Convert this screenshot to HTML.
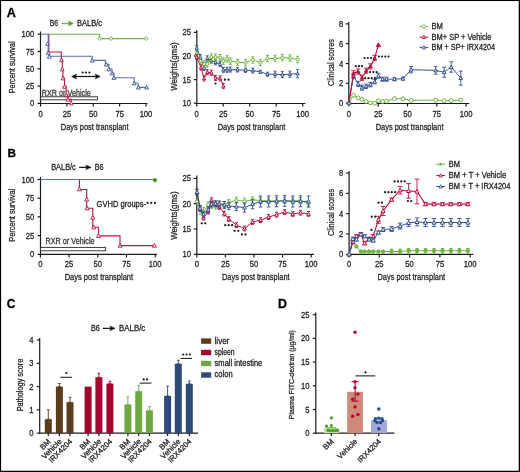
<!DOCTYPE html>
<html><head><meta charset="utf-8"><style>
html,body{margin:0;padding:0;background:#fff;}
svg{display:block;font-family:"Liberation Sans", sans-serif;will-change:transform;}
</style></head><body>
<svg width="520" height="472" viewBox="0 0 520 472">
<rect width="520" height="472" fill="#fff"/>
<rect x="0" y="0" width="520" height="1.05" fill="#000"/>
<rect x="0" y="0" width="1.1" height="472" fill="#000"/>
<rect x="518.7" y="0" width="1.3" height="472" fill="#000"/>
<rect x="0" y="470.75" width="520" height="1.25" fill="#000"/>
<text x="6.80" y="16.70" font-size="12.6" font-weight="bold" fill="#000" stroke="#000" stroke-width="0.28">A</text>
<text x="7.50" y="156.90" font-size="11.8" font-weight="bold" fill="#000" stroke="#000" stroke-width="0.28">B</text>
<text x="6.80" y="307.90" font-size="12" font-weight="bold" fill="#000" stroke="#000" stroke-width="0.28">C</text>
<text x="278.00" y="308.00" font-size="12.4" font-weight="bold" fill="#000" stroke="#000" stroke-width="0.28">D</text>
<line x1="40.50" y1="31.50" x2="40.50" y2="104.05" stroke="#1b1b1b" stroke-width="1.2"/>
<line x1="37.50" y1="34.20" x2="40.50" y2="34.20" stroke="#1b1b1b" stroke-width="1.2"/>
<text x="34.20" y="37.20" font-size="9.0" text-anchor="end" textLength="12.75" lengthAdjust="spacingAndGlyphs" fill="#222" stroke="#222" stroke-width="0.28">100</text>
<line x1="37.50" y1="51.50" x2="40.50" y2="51.50" stroke="#1b1b1b" stroke-width="1.2"/>
<text x="34.20" y="54.50" font-size="9.0" text-anchor="end" textLength="8.5" lengthAdjust="spacingAndGlyphs" fill="#222" stroke="#222" stroke-width="0.28">75</text>
<line x1="37.50" y1="68.80" x2="40.50" y2="68.80" stroke="#1b1b1b" stroke-width="1.2"/>
<text x="34.20" y="71.80" font-size="9.0" text-anchor="end" textLength="8.5" lengthAdjust="spacingAndGlyphs" fill="#222" stroke="#222" stroke-width="0.28">50</text>
<line x1="37.50" y1="86.10" x2="40.50" y2="86.10" stroke="#1b1b1b" stroke-width="1.2"/>
<text x="34.20" y="89.10" font-size="9.0" text-anchor="end" textLength="8.5" lengthAdjust="spacingAndGlyphs" fill="#222" stroke="#222" stroke-width="0.28">25</text>
<line x1="37.50" y1="103.40" x2="40.50" y2="103.40" stroke="#1b1b1b" stroke-width="1.2"/>
<text x="34.20" y="106.40" font-size="9.0" text-anchor="end" textLength="4.25" lengthAdjust="spacingAndGlyphs" fill="#222" stroke="#222" stroke-width="0.28">0</text>
<line x1="39.95" y1="103.50" x2="147.50" y2="103.50" stroke="#1b1b1b" stroke-width="1.2"/>
<line x1="40.60" y1="103.50" x2="40.60" y2="106.50" stroke="#1b1b1b" stroke-width="1.2"/>
<text x="40.60" y="116.70" font-size="9.0" text-anchor="middle" textLength="4.25" lengthAdjust="spacingAndGlyphs" fill="#222" stroke="#222" stroke-width="0.28">0</text>
<line x1="66.95" y1="103.50" x2="66.95" y2="106.50" stroke="#1b1b1b" stroke-width="1.2"/>
<text x="66.95" y="116.70" font-size="9.0" text-anchor="middle" textLength="8.5" lengthAdjust="spacingAndGlyphs" fill="#222" stroke="#222" stroke-width="0.28">25</text>
<line x1="93.30" y1="103.50" x2="93.30" y2="106.50" stroke="#1b1b1b" stroke-width="1.2"/>
<text x="93.30" y="116.70" font-size="9.0" text-anchor="middle" textLength="8.5" lengthAdjust="spacingAndGlyphs" fill="#222" stroke="#222" stroke-width="0.28">50</text>
<line x1="119.65" y1="103.50" x2="119.65" y2="106.50" stroke="#1b1b1b" stroke-width="1.2"/>
<text x="119.65" y="116.70" font-size="9.0" text-anchor="middle" textLength="8.5" lengthAdjust="spacingAndGlyphs" fill="#222" stroke="#222" stroke-width="0.28">75</text>
<line x1="146.00" y1="103.50" x2="146.00" y2="106.50" stroke="#1b1b1b" stroke-width="1.2"/>
<text x="146.00" y="116.70" font-size="9.0" text-anchor="middle" textLength="12.75" lengthAdjust="spacingAndGlyphs" fill="#222" stroke="#222" stroke-width="0.28">100</text>
<text transform="translate(15.00,67.30) rotate(-90)" font-size="9.8" text-anchor="middle" textLength="52" lengthAdjust="spacingAndGlyphs" fill="#222" stroke="#222" stroke-width="0.28">Percent survival</text>
<text x="94.70" y="130.10" font-size="9.8" text-anchor="middle" textLength="67.7" lengthAdjust="spacingAndGlyphs" fill="#222" stroke="#222" stroke-width="0.28">Days post transplant</text>
<text x="49.70" y="25.80" font-size="8.4" textLength="8.3" lengthAdjust="spacingAndGlyphs" fill="#222" stroke="#222" stroke-width="0.28">B6</text>
<line x1="61.50" y1="23.50" x2="69.60" y2="23.50" stroke="#79b957" stroke-width="1.3"/>
<polygon points="73.60,23.50 68.20,21.10 69.20,23.50 68.20,25.90" fill="#4f9c2a" stroke="#4f9c2a" stroke-width="0.4" stroke-linejoin="round"/>
<text x="77.00" y="25.80" font-size="8.4" textLength="25" lengthAdjust="spacingAndGlyphs" fill="#222" stroke="#222" stroke-width="0.28">BALB/c</text>
<rect x="40.6" y="96.8" width="57" height="3.0" fill="white" stroke="#2a2a2a" stroke-width="0.9"/>
<text x="41.80" y="95.90" font-size="8.8" textLength="49" lengthAdjust="spacingAndGlyphs" fill="#333" stroke="#333" stroke-width="0.28">RXR or Vehicle</text>
<polyline points="48.50,34.20 99.40,34.20 99.40,38.60 146.20,38.60" fill="none" stroke="#6cb33f" stroke-width="1.1" stroke-linejoin="miter"/>
<circle cx="99.60" cy="38.60" r="1.6" fill="white" stroke="#6cb33f" stroke-width="0.9"/>
<circle cx="111.00" cy="38.60" r="1.6" fill="white" stroke="#6cb33f" stroke-width="0.9"/>
<circle cx="146.20" cy="38.60" r="1.6" fill="white" stroke="#6cb33f" stroke-width="0.9"/>
<polyline points="48.80,34.20 48.80,52.00 61.30,52.00 61.30,59.80 62.30,59.80 62.30,69.00 62.90,69.00 62.90,78.00 64.50,78.00 64.50,86.40 66.20,86.40 66.20,94.80 67.90,94.80 67.90,99.30 71.30,99.30 71.30,103.40" fill="none" stroke="#bb1340" stroke-width="1.1" stroke-linejoin="miter"/>
<polygon points="61.50,58.10 63.40,61.62 59.60,61.62" fill="white" stroke="#bb1340" stroke-width="0.9"/>
<polygon points="62.30,67.30 64.20,70.82 60.40,70.82" fill="white" stroke="#bb1340" stroke-width="0.9"/>
<polygon points="62.90,76.30 64.80,79.82 61.00,79.82" fill="white" stroke="#bb1340" stroke-width="0.9"/>
<polygon points="64.50,84.70 66.40,88.22 62.60,88.22" fill="white" stroke="#bb1340" stroke-width="0.9"/>
<polygon points="66.20,93.10 68.10,96.62 64.30,96.62" fill="white" stroke="#bb1340" stroke-width="0.9"/>
<polygon points="67.90,97.60 69.80,101.12 66.00,101.12" fill="white" stroke="#bb1340" stroke-width="0.9"/>
<polygon points="71.30,101.30 73.20,104.82 69.40,104.82" fill="white" stroke="#bb1340" stroke-width="0.9"/>
<polyline points="40.60,34.20 48.20,34.20 48.20,52.00 48.90,52.00 48.90,56.30 92.20,56.30 92.20,60.40 105.40,60.40 105.40,64.30 108.80,64.30 108.80,69.00 112.00,69.00 112.00,73.00 113.90,73.00 113.90,77.70 134.20,77.70 134.20,83.00 138.00,83.00 138.00,87.40 146.70,87.40" fill="none" stroke="#5570a8" stroke-width="1.1" stroke-linejoin="miter"/>
<polygon points="47.60,41.80 49.50,45.32 45.70,45.32" fill="white" stroke="#34508f" stroke-width="0.9"/>
<polygon points="48.20,50.80 50.10,54.32 46.30,54.32" fill="white" stroke="#34508f" stroke-width="0.9"/>
<polygon points="49.30,54.60 51.20,58.12 47.40,58.12" fill="white" stroke="#34508f" stroke-width="0.9"/>
<polygon points="92.20,58.51 94.10,62.02 90.30,62.02" fill="white" stroke="#34508f" stroke-width="0.9"/>
<polygon points="106.30,62.60 108.20,66.12 104.40,66.12" fill="white" stroke="#34508f" stroke-width="0.9"/>
<polygon points="108.80,67.30 110.70,70.82 106.90,70.82" fill="white" stroke="#34508f" stroke-width="0.9"/>
<polygon points="112.00,71.30 113.90,74.82 110.10,74.82" fill="white" stroke="#34508f" stroke-width="0.9"/>
<polygon points="113.90,75.80 115.80,79.32 112.00,79.32" fill="white" stroke="#34508f" stroke-width="0.9"/>
<polygon points="134.20,81.30 136.10,84.82 132.30,84.82" fill="white" stroke="#34508f" stroke-width="0.9"/>
<polygon points="138.40,85.50 140.30,89.02 136.50,89.02" fill="white" stroke="#34508f" stroke-width="0.9"/>
<polygon points="146.70,85.50 148.60,89.02 144.80,89.02" fill="white" stroke="#34508f" stroke-width="0.9"/>
<line x1="74.00" y1="76.50" x2="97.50" y2="76.50" stroke="#111" stroke-width="1.2"/>
<polygon points="71.6,76.5 76.5,74.1 75.6,76.5 76.5,78.9" fill="#111" stroke="#111" stroke-width="0.5" stroke-linejoin="round"/>
<polygon points="100.2,76.5 95.3,74.1 96.2,76.5 95.3,78.9" fill="#111" stroke="#111" stroke-width="0.5" stroke-linejoin="round"/>
<circle cx="82.70" cy="72.50" r="1.1" fill="#161616"/>
<circle cx="86.05" cy="72.50" r="1.1" fill="#161616"/>
<circle cx="89.40" cy="72.50" r="1.1" fill="#161616"/>
<line x1="196.80" y1="30.00" x2="196.80" y2="104.05" stroke="#1b1b1b" stroke-width="1.2"/>
<line x1="193.80" y1="32.40" x2="196.80" y2="32.40" stroke="#1b1b1b" stroke-width="1.2"/>
<text x="190.90" y="35.40" font-size="9.0" text-anchor="end" textLength="8.5" lengthAdjust="spacingAndGlyphs" fill="#222" stroke="#222" stroke-width="0.28">25</text>
<line x1="193.80" y1="56.00" x2="196.80" y2="56.00" stroke="#1b1b1b" stroke-width="1.2"/>
<text x="190.90" y="59.00" font-size="9.0" text-anchor="end" textLength="8.5" lengthAdjust="spacingAndGlyphs" fill="#222" stroke="#222" stroke-width="0.28">20</text>
<line x1="193.80" y1="79.60" x2="196.80" y2="79.60" stroke="#1b1b1b" stroke-width="1.2"/>
<text x="190.90" y="82.60" font-size="9.0" text-anchor="end" textLength="8.5" lengthAdjust="spacingAndGlyphs" fill="#222" stroke="#222" stroke-width="0.28">15</text>
<line x1="193.80" y1="103.20" x2="196.80" y2="103.20" stroke="#1b1b1b" stroke-width="1.2"/>
<text x="190.90" y="106.20" font-size="9.0" text-anchor="end" textLength="8.5" lengthAdjust="spacingAndGlyphs" fill="#222" stroke="#222" stroke-width="0.28">10</text>
<line x1="196.25" y1="103.50" x2="305.40" y2="103.50" stroke="#1b1b1b" stroke-width="1.2"/>
<line x1="196.70" y1="103.50" x2="196.70" y2="106.50" stroke="#1b1b1b" stroke-width="1.2"/>
<text x="196.70" y="116.70" font-size="9.0" text-anchor="middle" textLength="4.25" lengthAdjust="spacingAndGlyphs" fill="#222" stroke="#222" stroke-width="0.28">0</text>
<line x1="223.20" y1="103.50" x2="223.20" y2="106.50" stroke="#1b1b1b" stroke-width="1.2"/>
<text x="223.20" y="116.70" font-size="9.0" text-anchor="middle" textLength="8.5" lengthAdjust="spacingAndGlyphs" fill="#222" stroke="#222" stroke-width="0.28">25</text>
<line x1="249.70" y1="103.50" x2="249.70" y2="106.50" stroke="#1b1b1b" stroke-width="1.2"/>
<text x="249.70" y="116.70" font-size="9.0" text-anchor="middle" textLength="8.5" lengthAdjust="spacingAndGlyphs" fill="#222" stroke="#222" stroke-width="0.28">50</text>
<line x1="276.20" y1="103.50" x2="276.20" y2="106.50" stroke="#1b1b1b" stroke-width="1.2"/>
<text x="276.20" y="116.70" font-size="9.0" text-anchor="middle" textLength="8.5" lengthAdjust="spacingAndGlyphs" fill="#222" stroke="#222" stroke-width="0.28">75</text>
<line x1="302.70" y1="103.50" x2="302.70" y2="106.50" stroke="#1b1b1b" stroke-width="1.2"/>
<text x="302.70" y="116.70" font-size="9.0" text-anchor="middle" textLength="12.75" lengthAdjust="spacingAndGlyphs" fill="#222" stroke="#222" stroke-width="0.28">100</text>
<text transform="translate(177.40,66.50) rotate(-90)" font-size="9.8" text-anchor="middle" textLength="48.4" lengthAdjust="spacingAndGlyphs" fill="#222" stroke="#222" stroke-width="0.28">Weights(gms)</text>
<text x="251.50" y="130.10" font-size="9.8" text-anchor="middle" textLength="67.7" lengthAdjust="spacingAndGlyphs" fill="#222" stroke="#222" stroke-width="0.28">Days post transplant</text>
<polyline points="196.70,54.20 200.40,61.10 204.10,64.00 207.30,64.00 211.30,57.10 215.60,57.10 220.00,57.70 223.40,61.10 227.10,58.80 230.40,61.10 237.50,62.30 245.50,62.60 252.80,59.90 260.40,62.60 267.50,58.50 275.10,58.50 282.40,57.70 289.90,58.10 297.60,59.50" fill="none" stroke="#6cb33f" stroke-width="1.0" stroke-linejoin="miter"/>
<polyline points="196.70,47.90 200.40,57.10 204.10,68.00 207.30,58.30 211.30,60.60 215.60,62.30 220.00,64.00 223.40,69.80 227.10,69.80 230.40,69.50 237.50,69.80 245.50,70.20 252.80,70.50 260.40,71.90 267.50,74.20 275.10,74.20 282.40,74.60 289.90,74.20 297.60,73.60" fill="none" stroke="#34508f" stroke-width="1.0" stroke-linejoin="miter"/>
<polyline points="196.70,57.10 201.00,67.50 204.10,78.40 207.30,72.10 211.30,72.70 215.60,77.90 220.20,78.40 223.40,86.00" fill="none" stroke="#bb1340" stroke-width="1.0" stroke-linejoin="miter"/>
<line x1="196.70" y1="45.40" x2="196.70" y2="50.40" stroke="#34508f" stroke-width="0.9"/>
<line x1="195.20" y1="45.40" x2="198.20" y2="45.40" stroke="#34508f" stroke-width="0.9"/>
<line x1="195.20" y1="50.40" x2="198.20" y2="50.40" stroke="#34508f" stroke-width="0.9"/>
<polygon points="196.70,46.22 198.30,49.18 195.10,49.18" fill="white" stroke="#34508f" stroke-width="1.0"/>
<line x1="200.40" y1="54.60" x2="200.40" y2="59.60" stroke="#34508f" stroke-width="0.9"/>
<line x1="198.90" y1="54.60" x2="201.90" y2="54.60" stroke="#34508f" stroke-width="0.9"/>
<line x1="198.90" y1="59.60" x2="201.90" y2="59.60" stroke="#34508f" stroke-width="0.9"/>
<polygon points="200.40,55.42 202.00,58.38 198.80,58.38" fill="white" stroke="#34508f" stroke-width="1.0"/>
<line x1="204.10" y1="65.50" x2="204.10" y2="70.50" stroke="#34508f" stroke-width="0.9"/>
<line x1="202.60" y1="65.50" x2="205.60" y2="65.50" stroke="#34508f" stroke-width="0.9"/>
<line x1="202.60" y1="70.50" x2="205.60" y2="70.50" stroke="#34508f" stroke-width="0.9"/>
<polygon points="204.10,66.32 205.70,69.28 202.50,69.28" fill="white" stroke="#34508f" stroke-width="1.0"/>
<line x1="207.30" y1="55.80" x2="207.30" y2="60.80" stroke="#34508f" stroke-width="0.9"/>
<line x1="205.80" y1="55.80" x2="208.80" y2="55.80" stroke="#34508f" stroke-width="0.9"/>
<line x1="205.80" y1="60.80" x2="208.80" y2="60.80" stroke="#34508f" stroke-width="0.9"/>
<polygon points="207.30,56.62 208.90,59.58 205.70,59.58" fill="white" stroke="#34508f" stroke-width="1.0"/>
<line x1="211.30" y1="58.10" x2="211.30" y2="63.10" stroke="#34508f" stroke-width="0.9"/>
<line x1="209.80" y1="58.10" x2="212.80" y2="58.10" stroke="#34508f" stroke-width="0.9"/>
<line x1="209.80" y1="63.10" x2="212.80" y2="63.10" stroke="#34508f" stroke-width="0.9"/>
<polygon points="211.30,58.92 212.90,61.88 209.70,61.88" fill="white" stroke="#34508f" stroke-width="1.0"/>
<line x1="215.60" y1="59.80" x2="215.60" y2="64.80" stroke="#34508f" stroke-width="0.9"/>
<line x1="214.10" y1="59.80" x2="217.10" y2="59.80" stroke="#34508f" stroke-width="0.9"/>
<line x1="214.10" y1="64.80" x2="217.10" y2="64.80" stroke="#34508f" stroke-width="0.9"/>
<polygon points="215.60,60.62 217.20,63.58 214.00,63.58" fill="white" stroke="#34508f" stroke-width="1.0"/>
<line x1="220.00" y1="61.50" x2="220.00" y2="66.50" stroke="#34508f" stroke-width="0.9"/>
<line x1="218.50" y1="61.50" x2="221.50" y2="61.50" stroke="#34508f" stroke-width="0.9"/>
<line x1="218.50" y1="66.50" x2="221.50" y2="66.50" stroke="#34508f" stroke-width="0.9"/>
<polygon points="220.00,62.32 221.60,65.28 218.40,65.28" fill="white" stroke="#34508f" stroke-width="1.0"/>
<line x1="223.40" y1="67.30" x2="223.40" y2="72.30" stroke="#34508f" stroke-width="0.9"/>
<line x1="221.90" y1="67.30" x2="224.90" y2="67.30" stroke="#34508f" stroke-width="0.9"/>
<line x1="221.90" y1="72.30" x2="224.90" y2="72.30" stroke="#34508f" stroke-width="0.9"/>
<polygon points="223.40,68.12 225.00,71.08 221.80,71.08" fill="white" stroke="#34508f" stroke-width="1.0"/>
<line x1="227.10" y1="67.30" x2="227.10" y2="72.30" stroke="#34508f" stroke-width="0.9"/>
<line x1="225.60" y1="67.30" x2="228.60" y2="67.30" stroke="#34508f" stroke-width="0.9"/>
<line x1="225.60" y1="72.30" x2="228.60" y2="72.30" stroke="#34508f" stroke-width="0.9"/>
<polygon points="227.10,68.12 228.70,71.08 225.50,71.08" fill="white" stroke="#34508f" stroke-width="1.0"/>
<line x1="230.40" y1="67.00" x2="230.40" y2="72.00" stroke="#34508f" stroke-width="0.9"/>
<line x1="228.90" y1="67.00" x2="231.90" y2="67.00" stroke="#34508f" stroke-width="0.9"/>
<line x1="228.90" y1="72.00" x2="231.90" y2="72.00" stroke="#34508f" stroke-width="0.9"/>
<polygon points="230.40,67.82 232.00,70.78 228.80,70.78" fill="white" stroke="#34508f" stroke-width="1.0"/>
<line x1="237.50" y1="67.60" x2="237.50" y2="72.00" stroke="#34508f" stroke-width="0.9"/>
<line x1="236.00" y1="67.60" x2="239.00" y2="67.60" stroke="#34508f" stroke-width="0.9"/>
<line x1="236.00" y1="72.00" x2="239.00" y2="72.00" stroke="#34508f" stroke-width="0.9"/>
<polygon points="237.50,68.12 239.10,71.08 235.90,71.08" fill="white" stroke="#34508f" stroke-width="1.0"/>
<line x1="245.50" y1="68.00" x2="245.50" y2="72.40" stroke="#34508f" stroke-width="0.9"/>
<line x1="244.00" y1="68.00" x2="247.00" y2="68.00" stroke="#34508f" stroke-width="0.9"/>
<line x1="244.00" y1="72.40" x2="247.00" y2="72.40" stroke="#34508f" stroke-width="0.9"/>
<polygon points="245.50,68.52 247.10,71.48 243.90,71.48" fill="white" stroke="#34508f" stroke-width="1.0"/>
<line x1="252.80" y1="68.00" x2="252.80" y2="73.00" stroke="#34508f" stroke-width="0.9"/>
<line x1="251.30" y1="68.00" x2="254.30" y2="68.00" stroke="#34508f" stroke-width="0.9"/>
<line x1="251.30" y1="73.00" x2="254.30" y2="73.00" stroke="#34508f" stroke-width="0.9"/>
<polygon points="252.80,68.82 254.40,71.78 251.20,71.78" fill="white" stroke="#34508f" stroke-width="1.0"/>
<line x1="260.40" y1="70.30" x2="260.40" y2="73.50" stroke="#34508f" stroke-width="0.9"/>
<line x1="258.90" y1="70.30" x2="261.90" y2="70.30" stroke="#34508f" stroke-width="0.9"/>
<line x1="258.90" y1="73.50" x2="261.90" y2="73.50" stroke="#34508f" stroke-width="0.9"/>
<polygon points="260.40,70.22 262.00,73.18 258.80,73.18" fill="white" stroke="#34508f" stroke-width="1.0"/>
<line x1="267.50" y1="72.20" x2="267.50" y2="76.20" stroke="#34508f" stroke-width="0.9"/>
<line x1="266.00" y1="72.20" x2="269.00" y2="72.20" stroke="#34508f" stroke-width="0.9"/>
<line x1="266.00" y1="76.20" x2="269.00" y2="76.20" stroke="#34508f" stroke-width="0.9"/>
<polygon points="267.50,72.52 269.10,75.48 265.90,75.48" fill="white" stroke="#34508f" stroke-width="1.0"/>
<line x1="275.10" y1="71.20" x2="275.10" y2="77.20" stroke="#34508f" stroke-width="0.9"/>
<line x1="273.60" y1="71.20" x2="276.60" y2="71.20" stroke="#34508f" stroke-width="0.9"/>
<line x1="273.60" y1="77.20" x2="276.60" y2="77.20" stroke="#34508f" stroke-width="0.9"/>
<polygon points="275.10,72.52 276.70,75.48 273.50,75.48" fill="white" stroke="#34508f" stroke-width="1.0"/>
<line x1="282.40" y1="71.60" x2="282.40" y2="77.60" stroke="#34508f" stroke-width="0.9"/>
<line x1="280.90" y1="71.60" x2="283.90" y2="71.60" stroke="#34508f" stroke-width="0.9"/>
<line x1="280.90" y1="77.60" x2="283.90" y2="77.60" stroke="#34508f" stroke-width="0.9"/>
<polygon points="282.40,72.92 284.00,75.88 280.80,75.88" fill="white" stroke="#34508f" stroke-width="1.0"/>
<line x1="289.90" y1="71.20" x2="289.90" y2="77.20" stroke="#34508f" stroke-width="0.9"/>
<line x1="288.40" y1="71.20" x2="291.40" y2="71.20" stroke="#34508f" stroke-width="0.9"/>
<line x1="288.40" y1="77.20" x2="291.40" y2="77.20" stroke="#34508f" stroke-width="0.9"/>
<polygon points="289.90,72.52 291.50,75.48 288.30,75.48" fill="white" stroke="#34508f" stroke-width="1.0"/>
<line x1="297.60" y1="69.40" x2="297.60" y2="77.80" stroke="#34508f" stroke-width="0.9"/>
<line x1="296.10" y1="69.40" x2="299.10" y2="69.40" stroke="#34508f" stroke-width="0.9"/>
<line x1="296.10" y1="77.80" x2="299.10" y2="77.80" stroke="#34508f" stroke-width="0.9"/>
<polygon points="297.60,71.92 299.20,74.88 296.00,74.88" fill="white" stroke="#34508f" stroke-width="1.0"/>
<line x1="196.70" y1="51.00" x2="196.70" y2="57.40" stroke="#6cb33f" stroke-width="0.9"/>
<line x1="195.20" y1="51.00" x2="198.20" y2="51.00" stroke="#6cb33f" stroke-width="0.9"/>
<line x1="195.20" y1="57.40" x2="198.20" y2="57.40" stroke="#6cb33f" stroke-width="0.9"/>
<circle cx="196.70" cy="54.20" r="1.5" fill="white" stroke="#6cb33f" stroke-width="1.0"/>
<line x1="200.40" y1="57.90" x2="200.40" y2="64.30" stroke="#6cb33f" stroke-width="0.9"/>
<line x1="198.90" y1="57.90" x2="201.90" y2="57.90" stroke="#6cb33f" stroke-width="0.9"/>
<line x1="198.90" y1="64.30" x2="201.90" y2="64.30" stroke="#6cb33f" stroke-width="0.9"/>
<circle cx="200.40" cy="61.10" r="1.5" fill="white" stroke="#6cb33f" stroke-width="1.0"/>
<line x1="204.10" y1="60.80" x2="204.10" y2="67.20" stroke="#6cb33f" stroke-width="0.9"/>
<line x1="202.60" y1="60.80" x2="205.60" y2="60.80" stroke="#6cb33f" stroke-width="0.9"/>
<line x1="202.60" y1="67.20" x2="205.60" y2="67.20" stroke="#6cb33f" stroke-width="0.9"/>
<circle cx="204.10" cy="64.00" r="1.5" fill="white" stroke="#6cb33f" stroke-width="1.0"/>
<line x1="207.30" y1="60.80" x2="207.30" y2="67.20" stroke="#6cb33f" stroke-width="0.9"/>
<line x1="205.80" y1="60.80" x2="208.80" y2="60.80" stroke="#6cb33f" stroke-width="0.9"/>
<line x1="205.80" y1="67.20" x2="208.80" y2="67.20" stroke="#6cb33f" stroke-width="0.9"/>
<circle cx="207.30" cy="64.00" r="1.5" fill="white" stroke="#6cb33f" stroke-width="1.0"/>
<line x1="211.30" y1="53.90" x2="211.30" y2="60.30" stroke="#6cb33f" stroke-width="0.9"/>
<line x1="209.80" y1="53.90" x2="212.80" y2="53.90" stroke="#6cb33f" stroke-width="0.9"/>
<line x1="209.80" y1="60.30" x2="212.80" y2="60.30" stroke="#6cb33f" stroke-width="0.9"/>
<circle cx="211.30" cy="57.10" r="1.5" fill="white" stroke="#6cb33f" stroke-width="1.0"/>
<line x1="215.60" y1="53.90" x2="215.60" y2="60.30" stroke="#6cb33f" stroke-width="0.9"/>
<line x1="214.10" y1="53.90" x2="217.10" y2="53.90" stroke="#6cb33f" stroke-width="0.9"/>
<line x1="214.10" y1="60.30" x2="217.10" y2="60.30" stroke="#6cb33f" stroke-width="0.9"/>
<circle cx="215.60" cy="57.10" r="1.5" fill="white" stroke="#6cb33f" stroke-width="1.0"/>
<line x1="220.00" y1="54.50" x2="220.00" y2="60.90" stroke="#6cb33f" stroke-width="0.9"/>
<line x1="218.50" y1="54.50" x2="221.50" y2="54.50" stroke="#6cb33f" stroke-width="0.9"/>
<line x1="218.50" y1="60.90" x2="221.50" y2="60.90" stroke="#6cb33f" stroke-width="0.9"/>
<circle cx="220.00" cy="57.70" r="1.5" fill="white" stroke="#6cb33f" stroke-width="1.0"/>
<line x1="223.40" y1="57.90" x2="223.40" y2="64.30" stroke="#6cb33f" stroke-width="0.9"/>
<line x1="221.90" y1="57.90" x2="224.90" y2="57.90" stroke="#6cb33f" stroke-width="0.9"/>
<line x1="221.90" y1="64.30" x2="224.90" y2="64.30" stroke="#6cb33f" stroke-width="0.9"/>
<circle cx="223.40" cy="61.10" r="1.5" fill="white" stroke="#6cb33f" stroke-width="1.0"/>
<line x1="227.10" y1="55.60" x2="227.10" y2="62.00" stroke="#6cb33f" stroke-width="0.9"/>
<line x1="225.60" y1="55.60" x2="228.60" y2="55.60" stroke="#6cb33f" stroke-width="0.9"/>
<line x1="225.60" y1="62.00" x2="228.60" y2="62.00" stroke="#6cb33f" stroke-width="0.9"/>
<circle cx="227.10" cy="58.80" r="1.5" fill="white" stroke="#6cb33f" stroke-width="1.0"/>
<line x1="230.40" y1="57.90" x2="230.40" y2="64.30" stroke="#6cb33f" stroke-width="0.9"/>
<line x1="228.90" y1="57.90" x2="231.90" y2="57.90" stroke="#6cb33f" stroke-width="0.9"/>
<line x1="228.90" y1="64.30" x2="231.90" y2="64.30" stroke="#6cb33f" stroke-width="0.9"/>
<circle cx="230.40" cy="61.10" r="1.5" fill="white" stroke="#6cb33f" stroke-width="1.0"/>
<line x1="237.50" y1="59.10" x2="237.50" y2="65.50" stroke="#6cb33f" stroke-width="0.9"/>
<line x1="236.00" y1="59.10" x2="239.00" y2="59.10" stroke="#6cb33f" stroke-width="0.9"/>
<line x1="236.00" y1="65.50" x2="239.00" y2="65.50" stroke="#6cb33f" stroke-width="0.9"/>
<circle cx="237.50" cy="62.30" r="1.5" fill="white" stroke="#6cb33f" stroke-width="1.0"/>
<line x1="245.50" y1="59.40" x2="245.50" y2="65.80" stroke="#6cb33f" stroke-width="0.9"/>
<line x1="244.00" y1="59.40" x2="247.00" y2="59.40" stroke="#6cb33f" stroke-width="0.9"/>
<line x1="244.00" y1="65.80" x2="247.00" y2="65.80" stroke="#6cb33f" stroke-width="0.9"/>
<circle cx="245.50" cy="62.60" r="1.5" fill="white" stroke="#6cb33f" stroke-width="1.0"/>
<line x1="252.80" y1="56.70" x2="252.80" y2="63.10" stroke="#6cb33f" stroke-width="0.9"/>
<line x1="251.30" y1="56.70" x2="254.30" y2="56.70" stroke="#6cb33f" stroke-width="0.9"/>
<line x1="251.30" y1="63.10" x2="254.30" y2="63.10" stroke="#6cb33f" stroke-width="0.9"/>
<circle cx="252.80" cy="59.90" r="1.5" fill="white" stroke="#6cb33f" stroke-width="1.0"/>
<line x1="260.40" y1="59.40" x2="260.40" y2="65.80" stroke="#6cb33f" stroke-width="0.9"/>
<line x1="258.90" y1="59.40" x2="261.90" y2="59.40" stroke="#6cb33f" stroke-width="0.9"/>
<line x1="258.90" y1="65.80" x2="261.90" y2="65.80" stroke="#6cb33f" stroke-width="0.9"/>
<circle cx="260.40" cy="62.60" r="1.5" fill="white" stroke="#6cb33f" stroke-width="1.0"/>
<line x1="267.50" y1="55.30" x2="267.50" y2="61.70" stroke="#6cb33f" stroke-width="0.9"/>
<line x1="266.00" y1="55.30" x2="269.00" y2="55.30" stroke="#6cb33f" stroke-width="0.9"/>
<line x1="266.00" y1="61.70" x2="269.00" y2="61.70" stroke="#6cb33f" stroke-width="0.9"/>
<circle cx="267.50" cy="58.50" r="1.5" fill="white" stroke="#6cb33f" stroke-width="1.0"/>
<line x1="275.10" y1="55.30" x2="275.10" y2="61.70" stroke="#6cb33f" stroke-width="0.9"/>
<line x1="273.60" y1="55.30" x2="276.60" y2="55.30" stroke="#6cb33f" stroke-width="0.9"/>
<line x1="273.60" y1="61.70" x2="276.60" y2="61.70" stroke="#6cb33f" stroke-width="0.9"/>
<circle cx="275.10" cy="58.50" r="1.5" fill="white" stroke="#6cb33f" stroke-width="1.0"/>
<line x1="282.40" y1="54.50" x2="282.40" y2="60.90" stroke="#6cb33f" stroke-width="0.9"/>
<line x1="280.90" y1="54.50" x2="283.90" y2="54.50" stroke="#6cb33f" stroke-width="0.9"/>
<line x1="280.90" y1="60.90" x2="283.90" y2="60.90" stroke="#6cb33f" stroke-width="0.9"/>
<circle cx="282.40" cy="57.70" r="1.5" fill="white" stroke="#6cb33f" stroke-width="1.0"/>
<line x1="289.90" y1="54.90" x2="289.90" y2="61.30" stroke="#6cb33f" stroke-width="0.9"/>
<line x1="288.40" y1="54.90" x2="291.40" y2="54.90" stroke="#6cb33f" stroke-width="0.9"/>
<line x1="288.40" y1="61.30" x2="291.40" y2="61.30" stroke="#6cb33f" stroke-width="0.9"/>
<circle cx="289.90" cy="58.10" r="1.5" fill="white" stroke="#6cb33f" stroke-width="1.0"/>
<line x1="297.60" y1="56.30" x2="297.60" y2="62.70" stroke="#6cb33f" stroke-width="0.9"/>
<line x1="296.10" y1="56.30" x2="299.10" y2="56.30" stroke="#6cb33f" stroke-width="0.9"/>
<line x1="296.10" y1="62.70" x2="299.10" y2="62.70" stroke="#6cb33f" stroke-width="0.9"/>
<circle cx="297.60" cy="59.50" r="1.5" fill="white" stroke="#6cb33f" stroke-width="1.0"/>
<line x1="196.70" y1="54.50" x2="196.70" y2="59.70" stroke="#bb1340" stroke-width="0.9"/>
<line x1="195.20" y1="54.50" x2="198.20" y2="54.50" stroke="#bb1340" stroke-width="0.9"/>
<line x1="195.20" y1="59.70" x2="198.20" y2="59.70" stroke="#bb1340" stroke-width="0.9"/>
<polygon points="196.70,55.42 198.30,58.38 195.10,58.38" fill="white" stroke="#bb1340" stroke-width="1.0"/>
<line x1="201.00" y1="64.90" x2="201.00" y2="70.10" stroke="#bb1340" stroke-width="0.9"/>
<line x1="199.50" y1="64.90" x2="202.50" y2="64.90" stroke="#bb1340" stroke-width="0.9"/>
<line x1="199.50" y1="70.10" x2="202.50" y2="70.10" stroke="#bb1340" stroke-width="0.9"/>
<polygon points="201.00,65.82 202.60,68.78 199.40,68.78" fill="white" stroke="#bb1340" stroke-width="1.0"/>
<line x1="204.10" y1="75.80" x2="204.10" y2="81.00" stroke="#bb1340" stroke-width="0.9"/>
<line x1="202.60" y1="75.80" x2="205.60" y2="75.80" stroke="#bb1340" stroke-width="0.9"/>
<line x1="202.60" y1="81.00" x2="205.60" y2="81.00" stroke="#bb1340" stroke-width="0.9"/>
<polygon points="204.10,76.72 205.70,79.68 202.50,79.68" fill="white" stroke="#bb1340" stroke-width="1.0"/>
<line x1="207.30" y1="69.50" x2="207.30" y2="74.70" stroke="#bb1340" stroke-width="0.9"/>
<line x1="205.80" y1="69.50" x2="208.80" y2="69.50" stroke="#bb1340" stroke-width="0.9"/>
<line x1="205.80" y1="74.70" x2="208.80" y2="74.70" stroke="#bb1340" stroke-width="0.9"/>
<polygon points="207.30,70.42 208.90,73.38 205.70,73.38" fill="white" stroke="#bb1340" stroke-width="1.0"/>
<line x1="211.30" y1="70.10" x2="211.30" y2="75.30" stroke="#bb1340" stroke-width="0.9"/>
<line x1="209.80" y1="70.10" x2="212.80" y2="70.10" stroke="#bb1340" stroke-width="0.9"/>
<line x1="209.80" y1="75.30" x2="212.80" y2="75.30" stroke="#bb1340" stroke-width="0.9"/>
<polygon points="211.30,71.02 212.90,73.98 209.70,73.98" fill="white" stroke="#bb1340" stroke-width="1.0"/>
<line x1="215.60" y1="75.30" x2="215.60" y2="80.50" stroke="#bb1340" stroke-width="0.9"/>
<line x1="214.10" y1="75.30" x2="217.10" y2="75.30" stroke="#bb1340" stroke-width="0.9"/>
<line x1="214.10" y1="80.50" x2="217.10" y2="80.50" stroke="#bb1340" stroke-width="0.9"/>
<polygon points="215.60,76.22 217.20,79.18 214.00,79.18" fill="white" stroke="#bb1340" stroke-width="1.0"/>
<line x1="220.20" y1="75.80" x2="220.20" y2="81.00" stroke="#bb1340" stroke-width="0.9"/>
<line x1="218.70" y1="75.80" x2="221.70" y2="75.80" stroke="#bb1340" stroke-width="0.9"/>
<line x1="218.70" y1="81.00" x2="221.70" y2="81.00" stroke="#bb1340" stroke-width="0.9"/>
<polygon points="220.20,76.72 221.80,79.68 218.60,79.68" fill="white" stroke="#bb1340" stroke-width="1.0"/>
<line x1="223.40" y1="83.40" x2="223.40" y2="88.60" stroke="#bb1340" stroke-width="0.9"/>
<line x1="221.90" y1="83.40" x2="224.90" y2="83.40" stroke="#bb1340" stroke-width="0.9"/>
<line x1="221.90" y1="88.60" x2="224.90" y2="88.60" stroke="#bb1340" stroke-width="0.9"/>
<polygon points="223.40,84.32 225.00,87.28 221.80,87.28" fill="white" stroke="#bb1340" stroke-width="1.0"/>
<circle cx="215.50" cy="83.50" r="1.1" fill="#161616"/>
<circle cx="224.90" cy="79.70" r="1.1" fill="#161616"/>
<circle cx="228.50" cy="79.70" r="1.1" fill="#161616"/>
<line x1="348.80" y1="22.00" x2="348.80" y2="104.05" stroke="#1b1b1b" stroke-width="1.2"/>
<line x1="345.80" y1="23.90" x2="348.80" y2="23.90" stroke="#1b1b1b" stroke-width="1.2"/>
<text x="343.20" y="26.90" font-size="9.0" text-anchor="end" textLength="4.25" lengthAdjust="spacingAndGlyphs" fill="#222" stroke="#222" stroke-width="0.28">8</text>
<line x1="345.80" y1="43.70" x2="348.80" y2="43.70" stroke="#1b1b1b" stroke-width="1.2"/>
<text x="343.20" y="46.70" font-size="9.0" text-anchor="end" textLength="4.25" lengthAdjust="spacingAndGlyphs" fill="#222" stroke="#222" stroke-width="0.28">6</text>
<line x1="345.80" y1="63.50" x2="348.80" y2="63.50" stroke="#1b1b1b" stroke-width="1.2"/>
<text x="343.20" y="66.50" font-size="9.0" text-anchor="end" textLength="4.25" lengthAdjust="spacingAndGlyphs" fill="#222" stroke="#222" stroke-width="0.28">4</text>
<line x1="345.80" y1="83.30" x2="348.80" y2="83.30" stroke="#1b1b1b" stroke-width="1.2"/>
<text x="343.20" y="86.30" font-size="9.0" text-anchor="end" textLength="4.25" lengthAdjust="spacingAndGlyphs" fill="#222" stroke="#222" stroke-width="0.28">2</text>
<line x1="345.80" y1="103.10" x2="348.80" y2="103.10" stroke="#1b1b1b" stroke-width="1.2"/>
<text x="343.20" y="106.10" font-size="9.0" text-anchor="end" textLength="4.25" lengthAdjust="spacingAndGlyphs" fill="#222" stroke="#222" stroke-width="0.28">0</text>
<line x1="348.25" y1="103.50" x2="469.20" y2="103.50" stroke="#1b1b1b" stroke-width="1.2"/>
<line x1="348.90" y1="103.50" x2="348.90" y2="106.50" stroke="#1b1b1b" stroke-width="1.2"/>
<text x="348.90" y="116.70" font-size="9.0" text-anchor="middle" textLength="4.25" lengthAdjust="spacingAndGlyphs" fill="#222" stroke="#222" stroke-width="0.28">0</text>
<line x1="378.20" y1="103.50" x2="378.20" y2="106.50" stroke="#1b1b1b" stroke-width="1.2"/>
<text x="378.20" y="116.70" font-size="9.0" text-anchor="middle" textLength="8.5" lengthAdjust="spacingAndGlyphs" fill="#222" stroke="#222" stroke-width="0.28">25</text>
<line x1="407.50" y1="103.50" x2="407.50" y2="106.50" stroke="#1b1b1b" stroke-width="1.2"/>
<text x="407.50" y="116.70" font-size="9.0" text-anchor="middle" textLength="8.5" lengthAdjust="spacingAndGlyphs" fill="#222" stroke="#222" stroke-width="0.28">50</text>
<line x1="436.80" y1="103.50" x2="436.80" y2="106.50" stroke="#1b1b1b" stroke-width="1.2"/>
<text x="436.80" y="116.70" font-size="9.0" text-anchor="middle" textLength="8.5" lengthAdjust="spacingAndGlyphs" fill="#222" stroke="#222" stroke-width="0.28">75</text>
<line x1="466.10" y1="103.50" x2="466.10" y2="106.50" stroke="#1b1b1b" stroke-width="1.2"/>
<text x="466.10" y="116.70" font-size="9.0" text-anchor="middle" textLength="12.75" lengthAdjust="spacingAndGlyphs" fill="#222" stroke="#222" stroke-width="0.28">100</text>
<text transform="translate(334.20,62.50) rotate(-90)" font-size="9.8" text-anchor="middle" textLength="46.8" lengthAdjust="spacingAndGlyphs" fill="#222" stroke="#222" stroke-width="0.28">Clinical scores</text>
<text x="409.60" y="130.10" font-size="9.8" text-anchor="middle" textLength="67.7" lengthAdjust="spacingAndGlyphs" fill="#222" stroke="#222" stroke-width="0.28">Days post transplant</text>
<polyline points="348.90,102.90 353.50,95.30 358.20,97.80 362.00,99.50 366.20,101.50 370.40,102.90 374.70,103.20 378.40,100.80 382.60,101.50 386.50,101.20 394.50,98.60 403.00,98.80 411.10,100.40 435.70,100.10 444.20,100.70 451.20,100.70 460.80,100.10" fill="none" stroke="#6cb33f" stroke-width="1.0" stroke-linejoin="miter"/>
<circle cx="348.90" cy="102.90" r="1.9" fill="white" stroke="#6cb33f" stroke-width="1.0"/>
<circle cx="353.50" cy="95.30" r="1.9" fill="white" stroke="#6cb33f" stroke-width="1.0"/>
<circle cx="358.20" cy="97.80" r="1.9" fill="white" stroke="#6cb33f" stroke-width="1.0"/>
<circle cx="362.00" cy="99.50" r="1.9" fill="white" stroke="#6cb33f" stroke-width="1.0"/>
<circle cx="366.20" cy="101.50" r="1.9" fill="white" stroke="#6cb33f" stroke-width="1.0"/>
<circle cx="370.40" cy="102.90" r="1.9" fill="white" stroke="#6cb33f" stroke-width="1.0"/>
<circle cx="374.70" cy="103.20" r="1.9" fill="white" stroke="#6cb33f" stroke-width="1.0"/>
<circle cx="378.40" cy="100.80" r="1.9" fill="white" stroke="#6cb33f" stroke-width="1.0"/>
<circle cx="382.60" cy="101.50" r="1.9" fill="white" stroke="#6cb33f" stroke-width="1.0"/>
<circle cx="386.50" cy="101.20" r="1.9" fill="white" stroke="#6cb33f" stroke-width="1.0"/>
<circle cx="394.50" cy="98.60" r="1.9" fill="white" stroke="#6cb33f" stroke-width="1.0"/>
<circle cx="403.00" cy="98.80" r="1.9" fill="white" stroke="#6cb33f" stroke-width="1.0"/>
<circle cx="411.10" cy="100.40" r="1.9" fill="white" stroke="#6cb33f" stroke-width="1.0"/>
<circle cx="435.70" cy="100.10" r="1.9" fill="white" stroke="#6cb33f" stroke-width="1.0"/>
<circle cx="444.20" cy="100.70" r="1.9" fill="white" stroke="#6cb33f" stroke-width="1.0"/>
<circle cx="451.20" cy="100.70" r="1.9" fill="white" stroke="#6cb33f" stroke-width="1.0"/>
<circle cx="460.80" cy="100.10" r="1.9" fill="white" stroke="#6cb33f" stroke-width="1.0"/>
<polyline points="348.90,102.90 353.50,76.10 358.20,83.90 362.00,87.60 366.20,86.30 370.40,84.60 374.70,81.70 378.40,75.80 382.60,79.20 386.50,79.20 394.50,79.20 403.00,78.60 411.10,69.70 435.70,70.40 444.20,72.20 451.20,67.00 460.80,78.10" fill="none" stroke="#34508f" stroke-width="1.0" stroke-linejoin="miter"/>
<polygon points="348.90,101.01 350.70,104.34 347.10,104.34" fill="white" stroke="#34508f" stroke-width="1.0"/>
<line x1="353.50" y1="73.60" x2="353.50" y2="78.60" stroke="#34508f" stroke-width="0.9"/>
<line x1="351.50" y1="73.60" x2="355.50" y2="73.60" stroke="#34508f" stroke-width="0.9"/>
<line x1="351.50" y1="78.60" x2="355.50" y2="78.60" stroke="#34508f" stroke-width="0.9"/>
<polygon points="353.50,74.21 355.30,77.54 351.70,77.54" fill="white" stroke="#34508f" stroke-width="1.0"/>
<line x1="358.20" y1="81.40" x2="358.20" y2="86.40" stroke="#34508f" stroke-width="0.9"/>
<line x1="356.20" y1="81.40" x2="360.20" y2="81.40" stroke="#34508f" stroke-width="0.9"/>
<line x1="356.20" y1="86.40" x2="360.20" y2="86.40" stroke="#34508f" stroke-width="0.9"/>
<polygon points="358.20,82.01 360.00,85.34 356.40,85.34" fill="white" stroke="#34508f" stroke-width="1.0"/>
<line x1="362.00" y1="85.10" x2="362.00" y2="90.10" stroke="#34508f" stroke-width="0.9"/>
<line x1="360.00" y1="85.10" x2="364.00" y2="85.10" stroke="#34508f" stroke-width="0.9"/>
<line x1="360.00" y1="90.10" x2="364.00" y2="90.10" stroke="#34508f" stroke-width="0.9"/>
<polygon points="362.00,85.71 363.80,89.04 360.20,89.04" fill="white" stroke="#34508f" stroke-width="1.0"/>
<line x1="366.20" y1="84.10" x2="366.20" y2="88.50" stroke="#34508f" stroke-width="0.9"/>
<line x1="364.20" y1="84.10" x2="368.20" y2="84.10" stroke="#34508f" stroke-width="0.9"/>
<line x1="364.20" y1="88.50" x2="368.20" y2="88.50" stroke="#34508f" stroke-width="0.9"/>
<polygon points="366.20,84.41 368.00,87.74 364.40,87.74" fill="white" stroke="#34508f" stroke-width="1.0"/>
<line x1="370.40" y1="82.40" x2="370.40" y2="86.80" stroke="#34508f" stroke-width="0.9"/>
<line x1="368.40" y1="82.40" x2="372.40" y2="82.40" stroke="#34508f" stroke-width="0.9"/>
<line x1="368.40" y1="86.80" x2="372.40" y2="86.80" stroke="#34508f" stroke-width="0.9"/>
<polygon points="370.40,82.71 372.20,86.04 368.60,86.04" fill="white" stroke="#34508f" stroke-width="1.0"/>
<line x1="374.70" y1="79.50" x2="374.70" y2="83.90" stroke="#34508f" stroke-width="0.9"/>
<line x1="372.70" y1="79.50" x2="376.70" y2="79.50" stroke="#34508f" stroke-width="0.9"/>
<line x1="372.70" y1="83.90" x2="376.70" y2="83.90" stroke="#34508f" stroke-width="0.9"/>
<polygon points="374.70,79.81 376.50,83.14 372.90,83.14" fill="white" stroke="#34508f" stroke-width="1.0"/>
<line x1="378.40" y1="73.30" x2="378.40" y2="78.30" stroke="#34508f" stroke-width="0.9"/>
<line x1="376.40" y1="73.30" x2="380.40" y2="73.30" stroke="#34508f" stroke-width="0.9"/>
<line x1="376.40" y1="78.30" x2="380.40" y2="78.30" stroke="#34508f" stroke-width="0.9"/>
<polygon points="378.40,73.91 380.20,77.24 376.60,77.24" fill="white" stroke="#34508f" stroke-width="1.0"/>
<line x1="382.60" y1="77.20" x2="382.60" y2="81.20" stroke="#34508f" stroke-width="0.9"/>
<line x1="380.60" y1="77.20" x2="384.60" y2="77.20" stroke="#34508f" stroke-width="0.9"/>
<line x1="380.60" y1="81.20" x2="384.60" y2="81.20" stroke="#34508f" stroke-width="0.9"/>
<polygon points="382.60,77.31 384.40,80.64 380.80,80.64" fill="white" stroke="#34508f" stroke-width="1.0"/>
<line x1="386.50" y1="77.20" x2="386.50" y2="81.20" stroke="#34508f" stroke-width="0.9"/>
<line x1="384.50" y1="77.20" x2="388.50" y2="77.20" stroke="#34508f" stroke-width="0.9"/>
<line x1="384.50" y1="81.20" x2="388.50" y2="81.20" stroke="#34508f" stroke-width="0.9"/>
<polygon points="386.50,77.31 388.30,80.64 384.70,80.64" fill="white" stroke="#34508f" stroke-width="1.0"/>
<line x1="394.50" y1="77.70" x2="394.50" y2="80.70" stroke="#34508f" stroke-width="0.9"/>
<line x1="392.50" y1="77.70" x2="396.50" y2="77.70" stroke="#34508f" stroke-width="0.9"/>
<line x1="392.50" y1="80.70" x2="396.50" y2="80.70" stroke="#34508f" stroke-width="0.9"/>
<polygon points="394.50,77.31 396.30,80.64 392.70,80.64" fill="white" stroke="#34508f" stroke-width="1.0"/>
<line x1="403.00" y1="77.10" x2="403.00" y2="80.10" stroke="#34508f" stroke-width="0.9"/>
<line x1="401.00" y1="77.10" x2="405.00" y2="77.10" stroke="#34508f" stroke-width="0.9"/>
<line x1="401.00" y1="80.10" x2="405.00" y2="80.10" stroke="#34508f" stroke-width="0.9"/>
<polygon points="403.00,76.71 404.80,80.04 401.20,80.04" fill="white" stroke="#34508f" stroke-width="1.0"/>
<line x1="411.10" y1="66.50" x2="411.10" y2="72.90" stroke="#34508f" stroke-width="0.9"/>
<line x1="409.10" y1="66.50" x2="413.10" y2="66.50" stroke="#34508f" stroke-width="0.9"/>
<line x1="409.10" y1="72.90" x2="413.10" y2="72.90" stroke="#34508f" stroke-width="0.9"/>
<polygon points="411.10,67.81 412.90,71.14 409.30,71.14" fill="white" stroke="#34508f" stroke-width="1.0"/>
<line x1="435.70" y1="66.60" x2="435.70" y2="74.20" stroke="#34508f" stroke-width="0.9"/>
<line x1="433.70" y1="66.60" x2="437.70" y2="66.60" stroke="#34508f" stroke-width="0.9"/>
<line x1="433.70" y1="74.20" x2="437.70" y2="74.20" stroke="#34508f" stroke-width="0.9"/>
<polygon points="435.70,68.51 437.50,71.84 433.90,71.84" fill="white" stroke="#34508f" stroke-width="1.0"/>
<line x1="444.20" y1="67.20" x2="444.20" y2="77.20" stroke="#34508f" stroke-width="0.9"/>
<line x1="442.20" y1="67.20" x2="446.20" y2="67.20" stroke="#34508f" stroke-width="0.9"/>
<line x1="442.20" y1="77.20" x2="446.20" y2="77.20" stroke="#34508f" stroke-width="0.9"/>
<polygon points="444.20,70.31 446.00,73.64 442.40,73.64" fill="white" stroke="#34508f" stroke-width="1.0"/>
<line x1="451.20" y1="61.80" x2="451.20" y2="72.20" stroke="#34508f" stroke-width="0.9"/>
<line x1="449.20" y1="61.80" x2="453.20" y2="61.80" stroke="#34508f" stroke-width="0.9"/>
<line x1="449.20" y1="72.20" x2="453.20" y2="72.20" stroke="#34508f" stroke-width="0.9"/>
<polygon points="451.20,65.11 453.00,68.44 449.40,68.44" fill="white" stroke="#34508f" stroke-width="1.0"/>
<line x1="460.80" y1="71.10" x2="460.80" y2="85.10" stroke="#34508f" stroke-width="0.9"/>
<line x1="458.80" y1="71.10" x2="462.80" y2="71.10" stroke="#34508f" stroke-width="0.9"/>
<line x1="458.80" y1="85.10" x2="462.80" y2="85.10" stroke="#34508f" stroke-width="0.9"/>
<polygon points="460.80,76.21 462.60,79.54 459.00,79.54" fill="white" stroke="#34508f" stroke-width="1.0"/>
<polyline points="348.90,102.90 353.50,73.20 358.20,71.50 362.00,77.80 366.20,70.70 370.40,66.40 374.70,58.00 378.40,44.90" fill="none" stroke="#bb1340" stroke-width="1.1" stroke-linejoin="miter"/>
<line x1="353.50" y1="70.60" x2="353.50" y2="75.80" stroke="#bb1340" stroke-width="0.9"/>
<line x1="351.30" y1="70.60" x2="355.70" y2="70.60" stroke="#bb1340" stroke-width="0.9"/>
<line x1="351.30" y1="75.80" x2="355.70" y2="75.80" stroke="#bb1340" stroke-width="0.9"/>
<polygon points="353.50,71.31 355.30,74.64 351.70,74.64" fill="#bb1340" stroke="#bb1340" stroke-width="0.8"/>
<line x1="358.20" y1="68.90" x2="358.20" y2="74.10" stroke="#bb1340" stroke-width="0.9"/>
<line x1="356.00" y1="68.90" x2="360.40" y2="68.90" stroke="#bb1340" stroke-width="0.9"/>
<line x1="356.00" y1="74.10" x2="360.40" y2="74.10" stroke="#bb1340" stroke-width="0.9"/>
<polygon points="358.20,69.61 360.00,72.94 356.40,72.94" fill="#bb1340" stroke="#bb1340" stroke-width="0.8"/>
<line x1="362.00" y1="75.20" x2="362.00" y2="80.40" stroke="#bb1340" stroke-width="0.9"/>
<line x1="359.80" y1="75.20" x2="364.20" y2="75.20" stroke="#bb1340" stroke-width="0.9"/>
<line x1="359.80" y1="80.40" x2="364.20" y2="80.40" stroke="#bb1340" stroke-width="0.9"/>
<polygon points="362.00,75.91 363.80,79.24 360.20,79.24" fill="#bb1340" stroke="#bb1340" stroke-width="0.8"/>
<line x1="366.20" y1="68.10" x2="366.20" y2="73.30" stroke="#bb1340" stroke-width="0.9"/>
<line x1="364.00" y1="68.10" x2="368.40" y2="68.10" stroke="#bb1340" stroke-width="0.9"/>
<line x1="364.00" y1="73.30" x2="368.40" y2="73.30" stroke="#bb1340" stroke-width="0.9"/>
<polygon points="366.20,68.81 368.00,72.14 364.40,72.14" fill="#bb1340" stroke="#bb1340" stroke-width="0.8"/>
<line x1="370.40" y1="63.80" x2="370.40" y2="69.00" stroke="#bb1340" stroke-width="0.9"/>
<line x1="368.20" y1="63.80" x2="372.60" y2="63.80" stroke="#bb1340" stroke-width="0.9"/>
<line x1="368.20" y1="69.00" x2="372.60" y2="69.00" stroke="#bb1340" stroke-width="0.9"/>
<polygon points="370.40,64.51 372.20,67.84 368.60,67.84" fill="#bb1340" stroke="#bb1340" stroke-width="0.8"/>
<line x1="374.70" y1="55.40" x2="374.70" y2="60.60" stroke="#bb1340" stroke-width="0.9"/>
<line x1="372.50" y1="55.40" x2="376.90" y2="55.40" stroke="#bb1340" stroke-width="0.9"/>
<line x1="372.50" y1="60.60" x2="376.90" y2="60.60" stroke="#bb1340" stroke-width="0.9"/>
<polygon points="374.70,56.11 376.50,59.44 372.90,59.44" fill="#bb1340" stroke="#bb1340" stroke-width="0.8"/>
<polygon points="378.40,42.69 380.60,46.76 376.20,46.76" fill="#bb1340" stroke="#bb1340" stroke-width="0.9"/>
<circle cx="355.80" cy="66.20" r="1.1" fill="#161616"/>
<circle cx="358.90" cy="66.20" r="1.1" fill="#161616"/>
<circle cx="362.00" cy="66.20" r="1.1" fill="#161616"/>
<circle cx="364.50" cy="58.00" r="1.1" fill="#161616"/>
<circle cx="367.80" cy="58.00" r="1.1" fill="#161616"/>
<circle cx="371.10" cy="58.00" r="1.1" fill="#161616"/>
<circle cx="378.77" cy="56.50" r="1.1" fill="#161616"/>
<circle cx="382.02" cy="56.50" r="1.1" fill="#161616"/>
<circle cx="385.27" cy="56.50" r="1.1" fill="#161616"/>
<circle cx="388.52" cy="56.50" r="1.1" fill="#161616"/>
<circle cx="370.05" cy="72.10" r="1.1" fill="#161616"/>
<circle cx="373.35" cy="72.10" r="1.1" fill="#161616"/>
<circle cx="376.65" cy="72.10" r="1.1" fill="#161616"/>
<circle cx="365.23" cy="78.20" r="1.1" fill="#161616"/>
<circle cx="368.48" cy="78.20" r="1.1" fill="#161616"/>
<circle cx="371.73" cy="78.20" r="1.1" fill="#161616"/>
<circle cx="374.98" cy="78.20" r="1.1" fill="#161616"/>
<line x1="419.50" y1="26.60" x2="428.20" y2="26.60" stroke="#6cb33f" stroke-width="1.0"/>
<circle cx="423.85" cy="26.60" r="1.6" fill="white" stroke="#6cb33f" stroke-width="0.9"/>
<text x="431.60" y="28.90" font-size="8.4" textLength="11.3" lengthAdjust="spacingAndGlyphs" fill="#222" stroke="#222" stroke-width="0.28">BM</text>
<line x1="419.50" y1="37.20" x2="428.20" y2="37.20" stroke="#bb1340" stroke-width="1.0"/>
<polygon points="423.85,35.42 425.55,38.56 422.15,38.56" fill="white" stroke="#bb1340" stroke-width="0.9"/>
<text x="431.60" y="39.50" font-size="8.4" textLength="59.9" lengthAdjust="spacingAndGlyphs" fill="#222" stroke="#222" stroke-width="0.28">BM+ SP + Vehicle</text>
<line x1="419.50" y1="47.40" x2="428.20" y2="47.40" stroke="#34508f" stroke-width="1.0"/>
<polygon points="423.85,45.62 425.55,48.76 422.15,48.76" fill="white" stroke="#34508f" stroke-width="0.9"/>
<text x="431.60" y="49.70" font-size="8.4" textLength="63.5" lengthAdjust="spacingAndGlyphs" fill="#222" stroke="#222" stroke-width="0.28">BM + SP+ IRX4204</text>
<line x1="40.50" y1="177.00" x2="40.50" y2="254.85" stroke="#1b1b1b" stroke-width="1.2"/>
<line x1="37.50" y1="179.50" x2="40.50" y2="179.50" stroke="#1b1b1b" stroke-width="1.2"/>
<text x="34.20" y="182.50" font-size="9.0" text-anchor="end" textLength="12.75" lengthAdjust="spacingAndGlyphs" fill="#222" stroke="#222" stroke-width="0.28">100</text>
<line x1="37.50" y1="198.20" x2="40.50" y2="198.20" stroke="#1b1b1b" stroke-width="1.2"/>
<text x="34.20" y="201.20" font-size="9.0" text-anchor="end" textLength="8.5" lengthAdjust="spacingAndGlyphs" fill="#222" stroke="#222" stroke-width="0.28">75</text>
<line x1="37.50" y1="216.90" x2="40.50" y2="216.90" stroke="#1b1b1b" stroke-width="1.2"/>
<text x="34.20" y="219.90" font-size="9.0" text-anchor="end" textLength="8.5" lengthAdjust="spacingAndGlyphs" fill="#222" stroke="#222" stroke-width="0.28">50</text>
<line x1="37.50" y1="235.60" x2="40.50" y2="235.60" stroke="#1b1b1b" stroke-width="1.2"/>
<text x="34.20" y="238.60" font-size="9.0" text-anchor="end" textLength="8.5" lengthAdjust="spacingAndGlyphs" fill="#222" stroke="#222" stroke-width="0.28">25</text>
<line x1="37.50" y1="254.30" x2="40.50" y2="254.30" stroke="#1b1b1b" stroke-width="1.2"/>
<text x="34.20" y="257.30" font-size="9.0" text-anchor="end" textLength="4.25" lengthAdjust="spacingAndGlyphs" fill="#222" stroke="#222" stroke-width="0.28">0</text>
<line x1="39.95" y1="254.40" x2="157.00" y2="254.40" stroke="#1b1b1b" stroke-width="1.2"/>
<line x1="40.40" y1="254.40" x2="40.40" y2="257.40" stroke="#1b1b1b" stroke-width="1.2"/>
<text x="40.40" y="266.60" font-size="9.0" text-anchor="middle" textLength="4.25" lengthAdjust="spacingAndGlyphs" fill="#222" stroke="#222" stroke-width="0.28">0</text>
<line x1="69.10" y1="254.40" x2="69.10" y2="257.40" stroke="#1b1b1b" stroke-width="1.2"/>
<text x="69.10" y="266.60" font-size="9.0" text-anchor="middle" textLength="8.5" lengthAdjust="spacingAndGlyphs" fill="#222" stroke="#222" stroke-width="0.28">25</text>
<line x1="97.80" y1="254.40" x2="97.80" y2="257.40" stroke="#1b1b1b" stroke-width="1.2"/>
<text x="97.80" y="266.60" font-size="9.0" text-anchor="middle" textLength="8.5" lengthAdjust="spacingAndGlyphs" fill="#222" stroke="#222" stroke-width="0.28">50</text>
<line x1="126.50" y1="254.40" x2="126.50" y2="257.40" stroke="#1b1b1b" stroke-width="1.2"/>
<text x="126.50" y="266.60" font-size="9.0" text-anchor="middle" textLength="8.5" lengthAdjust="spacingAndGlyphs" fill="#222" stroke="#222" stroke-width="0.28">75</text>
<line x1="155.20" y1="254.40" x2="155.20" y2="257.40" stroke="#1b1b1b" stroke-width="1.2"/>
<text x="155.20" y="266.60" font-size="9.0" text-anchor="middle" textLength="12.75" lengthAdjust="spacingAndGlyphs" fill="#222" stroke="#222" stroke-width="0.28">100</text>
<text transform="translate(14.50,215.30) rotate(-90)" font-size="9.8" text-anchor="middle" textLength="53" lengthAdjust="spacingAndGlyphs" fill="#222" stroke="#222" stroke-width="0.28">Percent survival</text>
<text x="98.90" y="280.10" font-size="9.8" text-anchor="middle" textLength="68.5" lengthAdjust="spacingAndGlyphs" fill="#222" stroke="#222" stroke-width="0.28">Days post transplant</text>
<text x="51.20" y="169.80" font-size="8.4" textLength="24.6" lengthAdjust="spacingAndGlyphs" fill="#222" stroke="#222" stroke-width="0.28">BALB/c</text>
<line x1="79.10" y1="167.35" x2="87.20" y2="167.35" stroke="#111" stroke-width="1.2"/>
<polygon points="91.20,167.35 85.80,164.95 86.80,167.35 85.80,169.75" fill="#111" stroke="#111" stroke-width="0.4" stroke-linejoin="round"/>
<text x="94.70" y="169.80" font-size="8.4" textLength="8.8" lengthAdjust="spacingAndGlyphs" fill="#222" stroke="#222" stroke-width="0.28">B6</text>
<rect x="40.6" y="247.4" width="65" height="3.4" fill="white" stroke="#2a2a2a" stroke-width="0.9"/>
<text x="45.60" y="244.10" font-size="8.8" textLength="48.9" lengthAdjust="spacingAndGlyphs" fill="#333" stroke="#333" stroke-width="0.28">RXR or Vehicle</text>
<text x="96.50" y="206.60" font-size="8.8" textLength="49.6" lengthAdjust="spacingAndGlyphs" fill="#222" stroke="#222" stroke-width="0.28">GVHD groups-</text>
<circle cx="147.65" cy="202.90" r="1.1" fill="#161616"/>
<circle cx="151.30" cy="202.90" r="1.1" fill="#161616"/>
<circle cx="154.95" cy="202.90" r="1.1" fill="#161616"/>
<polyline points="40.50,179.50 155.00,179.50" fill="none" stroke="#5570a8" stroke-width="1.1" stroke-linejoin="miter"/>
<polyline points="79.40,179.50 79.40,189.50 86.70,189.50 86.70,208.20 92.80,208.20 92.80,227.30 98.50,227.30 98.50,235.90 120.00,235.90 120.00,245.60 154.30,245.60" fill="none" stroke="#bb1340" stroke-width="1.1" stroke-linejoin="miter"/>
<polygon points="79.40,187.10 81.40,190.80 77.40,190.80" fill="white" stroke="#bb1340" stroke-width="0.9"/>
<polygon points="86.70,197.20 88.70,200.90 84.70,200.90" fill="white" stroke="#bb1340" stroke-width="0.9"/>
<polygon points="87.10,206.10 89.10,209.80 85.10,209.80" fill="white" stroke="#bb1340" stroke-width="0.9"/>
<polygon points="92.80,215.40 94.80,219.10 90.80,219.10" fill="white" stroke="#bb1340" stroke-width="0.9"/>
<polygon points="93.80,225.20 95.80,228.90 91.80,228.90" fill="white" stroke="#bb1340" stroke-width="0.9"/>
<polygon points="98.50,233.80 100.50,237.50 96.50,237.50" fill="white" stroke="#bb1340" stroke-width="0.9"/>
<polygon points="120.10,243.50 122.10,247.20 118.10,247.20" fill="white" stroke="#bb1340" stroke-width="0.9"/>
<polygon points="154.40,243.50 156.40,247.20 152.40,247.20" fill="white" stroke="#bb1340" stroke-width="0.9"/>
<circle cx="154.90" cy="180.10" r="1.9" fill="#3f7a3a" stroke="#6cb33f" stroke-width="0.9"/>
<line x1="196.80" y1="175.50" x2="196.80" y2="254.55" stroke="#1b1b1b" stroke-width="1.2"/>
<line x1="193.80" y1="178.40" x2="196.80" y2="178.40" stroke="#1b1b1b" stroke-width="1.2"/>
<text x="190.90" y="181.40" font-size="9.0" text-anchor="end" textLength="8.5" lengthAdjust="spacingAndGlyphs" fill="#222" stroke="#222" stroke-width="0.28">25</text>
<line x1="193.80" y1="203.70" x2="196.80" y2="203.70" stroke="#1b1b1b" stroke-width="1.2"/>
<text x="190.90" y="206.70" font-size="9.0" text-anchor="end" textLength="8.5" lengthAdjust="spacingAndGlyphs" fill="#222" stroke="#222" stroke-width="0.28">20</text>
<line x1="193.80" y1="229.00" x2="196.80" y2="229.00" stroke="#1b1b1b" stroke-width="1.2"/>
<text x="190.90" y="232.00" font-size="9.0" text-anchor="end" textLength="8.5" lengthAdjust="spacingAndGlyphs" fill="#222" stroke="#222" stroke-width="0.28">15</text>
<line x1="193.80" y1="254.30" x2="196.80" y2="254.30" stroke="#1b1b1b" stroke-width="1.2"/>
<text x="190.90" y="257.30" font-size="9.0" text-anchor="end" textLength="8.5" lengthAdjust="spacingAndGlyphs" fill="#222" stroke="#222" stroke-width="0.28">10</text>
<line x1="196.25" y1="254.40" x2="314.00" y2="254.40" stroke="#1b1b1b" stroke-width="1.2"/>
<line x1="196.80" y1="254.40" x2="196.80" y2="257.40" stroke="#1b1b1b" stroke-width="1.2"/>
<text x="196.80" y="266.60" font-size="9.0" text-anchor="middle" textLength="4.25" lengthAdjust="spacingAndGlyphs" fill="#222" stroke="#222" stroke-width="0.28">0</text>
<line x1="225.40" y1="254.40" x2="225.40" y2="257.40" stroke="#1b1b1b" stroke-width="1.2"/>
<text x="225.40" y="266.60" font-size="9.0" text-anchor="middle" textLength="8.5" lengthAdjust="spacingAndGlyphs" fill="#222" stroke="#222" stroke-width="0.28">25</text>
<line x1="254.00" y1="254.40" x2="254.00" y2="257.40" stroke="#1b1b1b" stroke-width="1.2"/>
<text x="254.00" y="266.60" font-size="9.0" text-anchor="middle" textLength="8.5" lengthAdjust="spacingAndGlyphs" fill="#222" stroke="#222" stroke-width="0.28">50</text>
<line x1="282.60" y1="254.40" x2="282.60" y2="257.40" stroke="#1b1b1b" stroke-width="1.2"/>
<text x="282.60" y="266.60" font-size="9.0" text-anchor="middle" textLength="8.5" lengthAdjust="spacingAndGlyphs" fill="#222" stroke="#222" stroke-width="0.28">75</text>
<line x1="311.20" y1="254.40" x2="311.20" y2="257.40" stroke="#1b1b1b" stroke-width="1.2"/>
<text x="311.20" y="266.60" font-size="9.0" text-anchor="middle" textLength="12.75" lengthAdjust="spacingAndGlyphs" fill="#222" stroke="#222" stroke-width="0.28">100</text>
<text transform="translate(177.30,215.60) rotate(-90)" font-size="9.8" text-anchor="middle" textLength="48.4" lengthAdjust="spacingAndGlyphs" fill="#222" stroke="#222" stroke-width="0.28">Weights(gms)</text>
<text x="255.80" y="280.10" font-size="9.8" text-anchor="middle" textLength="67.7" lengthAdjust="spacingAndGlyphs" fill="#222" stroke="#222" stroke-width="0.28">Days post transplant</text>
<polyline points="197.00,201.50 200.10,210.30 203.50,211.60 208.20,204.90 211.50,205.60 215.60,206.20 219.30,204.00 224.30,204.50 228.80,202.60 236.40,200.20 244.50,201.30 252.50,199.90 260.50,200.50 268.60,200.90 276.60,200.90 284.70,200.50 292.80,200.90 300.50,200.50 308.50,204.00" fill="none" stroke="#6cb33f" stroke-width="1.0" stroke-linejoin="miter"/>
<line x1="197.00" y1="198.50" x2="197.00" y2="204.50" stroke="#6cb33f" stroke-width="0.9"/>
<line x1="195.40" y1="198.50" x2="198.60" y2="198.50" stroke="#6cb33f" stroke-width="0.9"/>
<line x1="195.40" y1="204.50" x2="198.60" y2="204.50" stroke="#6cb33f" stroke-width="0.9"/>
<circle cx="197.00" cy="201.50" r="1.5" fill="white" stroke="#6cb33f" stroke-width="1.0"/>
<line x1="200.10" y1="206.30" x2="200.10" y2="214.30" stroke="#6cb33f" stroke-width="0.9"/>
<line x1="198.50" y1="206.30" x2="201.70" y2="206.30" stroke="#6cb33f" stroke-width="0.9"/>
<line x1="198.50" y1="214.30" x2="201.70" y2="214.30" stroke="#6cb33f" stroke-width="0.9"/>
<circle cx="200.10" cy="210.30" r="1.5" fill="white" stroke="#6cb33f" stroke-width="1.0"/>
<line x1="203.50" y1="207.60" x2="203.50" y2="215.60" stroke="#6cb33f" stroke-width="0.9"/>
<line x1="201.90" y1="207.60" x2="205.10" y2="207.60" stroke="#6cb33f" stroke-width="0.9"/>
<line x1="201.90" y1="215.60" x2="205.10" y2="215.60" stroke="#6cb33f" stroke-width="0.9"/>
<circle cx="203.50" cy="211.60" r="1.5" fill="white" stroke="#6cb33f" stroke-width="1.0"/>
<line x1="208.20" y1="201.90" x2="208.20" y2="207.90" stroke="#6cb33f" stroke-width="0.9"/>
<line x1="206.60" y1="201.90" x2="209.80" y2="201.90" stroke="#6cb33f" stroke-width="0.9"/>
<line x1="206.60" y1="207.90" x2="209.80" y2="207.90" stroke="#6cb33f" stroke-width="0.9"/>
<circle cx="208.20" cy="204.90" r="1.5" fill="white" stroke="#6cb33f" stroke-width="1.0"/>
<line x1="211.50" y1="202.60" x2="211.50" y2="208.60" stroke="#6cb33f" stroke-width="0.9"/>
<line x1="209.90" y1="202.60" x2="213.10" y2="202.60" stroke="#6cb33f" stroke-width="0.9"/>
<line x1="209.90" y1="208.60" x2="213.10" y2="208.60" stroke="#6cb33f" stroke-width="0.9"/>
<circle cx="211.50" cy="205.60" r="1.5" fill="white" stroke="#6cb33f" stroke-width="1.0"/>
<line x1="215.60" y1="203.20" x2="215.60" y2="209.20" stroke="#6cb33f" stroke-width="0.9"/>
<line x1="214.00" y1="203.20" x2="217.20" y2="203.20" stroke="#6cb33f" stroke-width="0.9"/>
<line x1="214.00" y1="209.20" x2="217.20" y2="209.20" stroke="#6cb33f" stroke-width="0.9"/>
<circle cx="215.60" cy="206.20" r="1.5" fill="white" stroke="#6cb33f" stroke-width="1.0"/>
<line x1="219.30" y1="201.00" x2="219.30" y2="207.00" stroke="#6cb33f" stroke-width="0.9"/>
<line x1="217.70" y1="201.00" x2="220.90" y2="201.00" stroke="#6cb33f" stroke-width="0.9"/>
<line x1="217.70" y1="207.00" x2="220.90" y2="207.00" stroke="#6cb33f" stroke-width="0.9"/>
<circle cx="219.30" cy="204.00" r="1.5" fill="white" stroke="#6cb33f" stroke-width="1.0"/>
<line x1="224.30" y1="201.50" x2="224.30" y2="207.50" stroke="#6cb33f" stroke-width="0.9"/>
<line x1="222.70" y1="201.50" x2="225.90" y2="201.50" stroke="#6cb33f" stroke-width="0.9"/>
<line x1="222.70" y1="207.50" x2="225.90" y2="207.50" stroke="#6cb33f" stroke-width="0.9"/>
<circle cx="224.30" cy="204.50" r="1.5" fill="white" stroke="#6cb33f" stroke-width="1.0"/>
<line x1="228.80" y1="199.60" x2="228.80" y2="205.60" stroke="#6cb33f" stroke-width="0.9"/>
<line x1="227.20" y1="199.60" x2="230.40" y2="199.60" stroke="#6cb33f" stroke-width="0.9"/>
<line x1="227.20" y1="205.60" x2="230.40" y2="205.60" stroke="#6cb33f" stroke-width="0.9"/>
<circle cx="228.80" cy="202.60" r="1.5" fill="white" stroke="#6cb33f" stroke-width="1.0"/>
<line x1="236.40" y1="197.20" x2="236.40" y2="203.20" stroke="#6cb33f" stroke-width="0.9"/>
<line x1="234.80" y1="197.20" x2="238.00" y2="197.20" stroke="#6cb33f" stroke-width="0.9"/>
<line x1="234.80" y1="203.20" x2="238.00" y2="203.20" stroke="#6cb33f" stroke-width="0.9"/>
<circle cx="236.40" cy="200.20" r="1.5" fill="white" stroke="#6cb33f" stroke-width="1.0"/>
<line x1="244.50" y1="198.30" x2="244.50" y2="204.30" stroke="#6cb33f" stroke-width="0.9"/>
<line x1="242.90" y1="198.30" x2="246.10" y2="198.30" stroke="#6cb33f" stroke-width="0.9"/>
<line x1="242.90" y1="204.30" x2="246.10" y2="204.30" stroke="#6cb33f" stroke-width="0.9"/>
<circle cx="244.50" cy="201.30" r="1.5" fill="white" stroke="#6cb33f" stroke-width="1.0"/>
<line x1="252.50" y1="196.90" x2="252.50" y2="202.90" stroke="#6cb33f" stroke-width="0.9"/>
<line x1="250.90" y1="196.90" x2="254.10" y2="196.90" stroke="#6cb33f" stroke-width="0.9"/>
<line x1="250.90" y1="202.90" x2="254.10" y2="202.90" stroke="#6cb33f" stroke-width="0.9"/>
<circle cx="252.50" cy="199.90" r="1.5" fill="white" stroke="#6cb33f" stroke-width="1.0"/>
<line x1="260.50" y1="197.50" x2="260.50" y2="203.50" stroke="#6cb33f" stroke-width="0.9"/>
<line x1="258.90" y1="197.50" x2="262.10" y2="197.50" stroke="#6cb33f" stroke-width="0.9"/>
<line x1="258.90" y1="203.50" x2="262.10" y2="203.50" stroke="#6cb33f" stroke-width="0.9"/>
<circle cx="260.50" cy="200.50" r="1.5" fill="white" stroke="#6cb33f" stroke-width="1.0"/>
<line x1="268.60" y1="197.90" x2="268.60" y2="203.90" stroke="#6cb33f" stroke-width="0.9"/>
<line x1="267.00" y1="197.90" x2="270.20" y2="197.90" stroke="#6cb33f" stroke-width="0.9"/>
<line x1="267.00" y1="203.90" x2="270.20" y2="203.90" stroke="#6cb33f" stroke-width="0.9"/>
<circle cx="268.60" cy="200.90" r="1.5" fill="white" stroke="#6cb33f" stroke-width="1.0"/>
<line x1="276.60" y1="197.90" x2="276.60" y2="203.90" stroke="#6cb33f" stroke-width="0.9"/>
<line x1="275.00" y1="197.90" x2="278.20" y2="197.90" stroke="#6cb33f" stroke-width="0.9"/>
<line x1="275.00" y1="203.90" x2="278.20" y2="203.90" stroke="#6cb33f" stroke-width="0.9"/>
<circle cx="276.60" cy="200.90" r="1.5" fill="white" stroke="#6cb33f" stroke-width="1.0"/>
<line x1="284.70" y1="197.50" x2="284.70" y2="203.50" stroke="#6cb33f" stroke-width="0.9"/>
<line x1="283.10" y1="197.50" x2="286.30" y2="197.50" stroke="#6cb33f" stroke-width="0.9"/>
<line x1="283.10" y1="203.50" x2="286.30" y2="203.50" stroke="#6cb33f" stroke-width="0.9"/>
<circle cx="284.70" cy="200.50" r="1.5" fill="white" stroke="#6cb33f" stroke-width="1.0"/>
<line x1="292.80" y1="197.90" x2="292.80" y2="203.90" stroke="#6cb33f" stroke-width="0.9"/>
<line x1="291.20" y1="197.90" x2="294.40" y2="197.90" stroke="#6cb33f" stroke-width="0.9"/>
<line x1="291.20" y1="203.90" x2="294.40" y2="203.90" stroke="#6cb33f" stroke-width="0.9"/>
<circle cx="292.80" cy="200.90" r="1.5" fill="white" stroke="#6cb33f" stroke-width="1.0"/>
<line x1="300.50" y1="197.50" x2="300.50" y2="203.50" stroke="#6cb33f" stroke-width="0.9"/>
<line x1="298.90" y1="197.50" x2="302.10" y2="197.50" stroke="#6cb33f" stroke-width="0.9"/>
<line x1="298.90" y1="203.50" x2="302.10" y2="203.50" stroke="#6cb33f" stroke-width="0.9"/>
<circle cx="300.50" cy="200.50" r="1.5" fill="white" stroke="#6cb33f" stroke-width="1.0"/>
<line x1="308.50" y1="201.00" x2="308.50" y2="207.00" stroke="#6cb33f" stroke-width="0.9"/>
<line x1="306.90" y1="201.00" x2="310.10" y2="201.00" stroke="#6cb33f" stroke-width="0.9"/>
<line x1="306.90" y1="207.00" x2="310.10" y2="207.00" stroke="#6cb33f" stroke-width="0.9"/>
<circle cx="308.50" cy="204.00" r="1.5" fill="white" stroke="#6cb33f" stroke-width="1.0"/>
<polyline points="197.00,192.10 200.10,208.30 203.50,217.70 208.20,211.60 211.50,200.20 215.60,204.20 219.30,206.90 224.30,213.60 228.80,219.00 236.40,225.10 244.50,228.50 252.50,222.00 260.50,220.10 268.60,217.00 276.60,214.70 284.70,212.00 292.80,214.00 300.50,212.70 308.50,213.90" fill="none" stroke="#bb1340" stroke-width="1.0" stroke-linejoin="miter"/>
<line x1="197.00" y1="189.70" x2="197.00" y2="194.50" stroke="#bb1340" stroke-width="0.9"/>
<line x1="195.40" y1="189.70" x2="198.60" y2="189.70" stroke="#bb1340" stroke-width="0.9"/>
<line x1="195.40" y1="194.50" x2="198.60" y2="194.50" stroke="#bb1340" stroke-width="0.9"/>
<polygon points="197.00,190.21 198.80,193.54 195.20,193.54" fill="white" stroke="#bb1340" stroke-width="1.0"/>
<line x1="200.10" y1="205.90" x2="200.10" y2="210.70" stroke="#bb1340" stroke-width="0.9"/>
<line x1="198.50" y1="205.90" x2="201.70" y2="205.90" stroke="#bb1340" stroke-width="0.9"/>
<line x1="198.50" y1="210.70" x2="201.70" y2="210.70" stroke="#bb1340" stroke-width="0.9"/>
<polygon points="200.10,206.41 201.90,209.74 198.30,209.74" fill="white" stroke="#bb1340" stroke-width="1.0"/>
<line x1="203.50" y1="215.30" x2="203.50" y2="220.10" stroke="#bb1340" stroke-width="0.9"/>
<line x1="201.90" y1="215.30" x2="205.10" y2="215.30" stroke="#bb1340" stroke-width="0.9"/>
<line x1="201.90" y1="220.10" x2="205.10" y2="220.10" stroke="#bb1340" stroke-width="0.9"/>
<polygon points="203.50,215.81 205.30,219.14 201.70,219.14" fill="white" stroke="#bb1340" stroke-width="1.0"/>
<line x1="208.20" y1="209.20" x2="208.20" y2="214.00" stroke="#bb1340" stroke-width="0.9"/>
<line x1="206.60" y1="209.20" x2="209.80" y2="209.20" stroke="#bb1340" stroke-width="0.9"/>
<line x1="206.60" y1="214.00" x2="209.80" y2="214.00" stroke="#bb1340" stroke-width="0.9"/>
<polygon points="208.20,209.71 210.00,213.04 206.40,213.04" fill="white" stroke="#bb1340" stroke-width="1.0"/>
<line x1="211.50" y1="197.80" x2="211.50" y2="202.60" stroke="#bb1340" stroke-width="0.9"/>
<line x1="209.90" y1="197.80" x2="213.10" y2="197.80" stroke="#bb1340" stroke-width="0.9"/>
<line x1="209.90" y1="202.60" x2="213.10" y2="202.60" stroke="#bb1340" stroke-width="0.9"/>
<polygon points="211.50,198.31 213.30,201.64 209.70,201.64" fill="white" stroke="#bb1340" stroke-width="1.0"/>
<line x1="215.60" y1="201.80" x2="215.60" y2="206.60" stroke="#bb1340" stroke-width="0.9"/>
<line x1="214.00" y1="201.80" x2="217.20" y2="201.80" stroke="#bb1340" stroke-width="0.9"/>
<line x1="214.00" y1="206.60" x2="217.20" y2="206.60" stroke="#bb1340" stroke-width="0.9"/>
<polygon points="215.60,202.31 217.40,205.64 213.80,205.64" fill="white" stroke="#bb1340" stroke-width="1.0"/>
<line x1="219.30" y1="204.50" x2="219.30" y2="209.30" stroke="#bb1340" stroke-width="0.9"/>
<line x1="217.70" y1="204.50" x2="220.90" y2="204.50" stroke="#bb1340" stroke-width="0.9"/>
<line x1="217.70" y1="209.30" x2="220.90" y2="209.30" stroke="#bb1340" stroke-width="0.9"/>
<polygon points="219.30,205.01 221.10,208.34 217.50,208.34" fill="white" stroke="#bb1340" stroke-width="1.0"/>
<line x1="224.30" y1="211.20" x2="224.30" y2="216.00" stroke="#bb1340" stroke-width="0.9"/>
<line x1="222.70" y1="211.20" x2="225.90" y2="211.20" stroke="#bb1340" stroke-width="0.9"/>
<line x1="222.70" y1="216.00" x2="225.90" y2="216.00" stroke="#bb1340" stroke-width="0.9"/>
<polygon points="224.30,211.71 226.10,215.04 222.50,215.04" fill="white" stroke="#bb1340" stroke-width="1.0"/>
<line x1="228.80" y1="216.60" x2="228.80" y2="221.40" stroke="#bb1340" stroke-width="0.9"/>
<line x1="227.20" y1="216.60" x2="230.40" y2="216.60" stroke="#bb1340" stroke-width="0.9"/>
<line x1="227.20" y1="221.40" x2="230.40" y2="221.40" stroke="#bb1340" stroke-width="0.9"/>
<polygon points="228.80,217.11 230.60,220.44 227.00,220.44" fill="white" stroke="#bb1340" stroke-width="1.0"/>
<line x1="236.40" y1="222.70" x2="236.40" y2="227.50" stroke="#bb1340" stroke-width="0.9"/>
<line x1="234.80" y1="222.70" x2="238.00" y2="222.70" stroke="#bb1340" stroke-width="0.9"/>
<line x1="234.80" y1="227.50" x2="238.00" y2="227.50" stroke="#bb1340" stroke-width="0.9"/>
<polygon points="236.40,223.21 238.20,226.54 234.60,226.54" fill="white" stroke="#bb1340" stroke-width="1.0"/>
<line x1="244.50" y1="226.10" x2="244.50" y2="230.90" stroke="#bb1340" stroke-width="0.9"/>
<line x1="242.90" y1="226.10" x2="246.10" y2="226.10" stroke="#bb1340" stroke-width="0.9"/>
<line x1="242.90" y1="230.90" x2="246.10" y2="230.90" stroke="#bb1340" stroke-width="0.9"/>
<polygon points="244.50,226.61 246.30,229.94 242.70,229.94" fill="white" stroke="#bb1340" stroke-width="1.0"/>
<line x1="252.50" y1="219.60" x2="252.50" y2="224.40" stroke="#bb1340" stroke-width="0.9"/>
<line x1="250.90" y1="219.60" x2="254.10" y2="219.60" stroke="#bb1340" stroke-width="0.9"/>
<line x1="250.90" y1="224.40" x2="254.10" y2="224.40" stroke="#bb1340" stroke-width="0.9"/>
<polygon points="252.50,220.11 254.30,223.44 250.70,223.44" fill="white" stroke="#bb1340" stroke-width="1.0"/>
<line x1="260.50" y1="217.70" x2="260.50" y2="222.50" stroke="#bb1340" stroke-width="0.9"/>
<line x1="258.90" y1="217.70" x2="262.10" y2="217.70" stroke="#bb1340" stroke-width="0.9"/>
<line x1="258.90" y1="222.50" x2="262.10" y2="222.50" stroke="#bb1340" stroke-width="0.9"/>
<polygon points="260.50,218.21 262.30,221.54 258.70,221.54" fill="white" stroke="#bb1340" stroke-width="1.0"/>
<line x1="268.60" y1="214.60" x2="268.60" y2="219.40" stroke="#bb1340" stroke-width="0.9"/>
<line x1="267.00" y1="214.60" x2="270.20" y2="214.60" stroke="#bb1340" stroke-width="0.9"/>
<line x1="267.00" y1="219.40" x2="270.20" y2="219.40" stroke="#bb1340" stroke-width="0.9"/>
<polygon points="268.60,215.11 270.40,218.44 266.80,218.44" fill="white" stroke="#bb1340" stroke-width="1.0"/>
<line x1="276.60" y1="212.30" x2="276.60" y2="217.10" stroke="#bb1340" stroke-width="0.9"/>
<line x1="275.00" y1="212.30" x2="278.20" y2="212.30" stroke="#bb1340" stroke-width="0.9"/>
<line x1="275.00" y1="217.10" x2="278.20" y2="217.10" stroke="#bb1340" stroke-width="0.9"/>
<polygon points="276.60,212.81 278.40,216.14 274.80,216.14" fill="white" stroke="#bb1340" stroke-width="1.0"/>
<line x1="284.70" y1="209.60" x2="284.70" y2="214.40" stroke="#bb1340" stroke-width="0.9"/>
<line x1="283.10" y1="209.60" x2="286.30" y2="209.60" stroke="#bb1340" stroke-width="0.9"/>
<line x1="283.10" y1="214.40" x2="286.30" y2="214.40" stroke="#bb1340" stroke-width="0.9"/>
<polygon points="284.70,210.11 286.50,213.44 282.90,213.44" fill="white" stroke="#bb1340" stroke-width="1.0"/>
<line x1="292.80" y1="211.60" x2="292.80" y2="216.40" stroke="#bb1340" stroke-width="0.9"/>
<line x1="291.20" y1="211.60" x2="294.40" y2="211.60" stroke="#bb1340" stroke-width="0.9"/>
<line x1="291.20" y1="216.40" x2="294.40" y2="216.40" stroke="#bb1340" stroke-width="0.9"/>
<polygon points="292.80,212.11 294.60,215.44 291.00,215.44" fill="white" stroke="#bb1340" stroke-width="1.0"/>
<line x1="300.50" y1="210.30" x2="300.50" y2="215.10" stroke="#bb1340" stroke-width="0.9"/>
<line x1="298.90" y1="210.30" x2="302.10" y2="210.30" stroke="#bb1340" stroke-width="0.9"/>
<line x1="298.90" y1="215.10" x2="302.10" y2="215.10" stroke="#bb1340" stroke-width="0.9"/>
<polygon points="300.50,210.81 302.30,214.14 298.70,214.14" fill="white" stroke="#bb1340" stroke-width="1.0"/>
<line x1="308.50" y1="211.50" x2="308.50" y2="216.30" stroke="#bb1340" stroke-width="0.9"/>
<line x1="306.90" y1="211.50" x2="310.10" y2="211.50" stroke="#bb1340" stroke-width="0.9"/>
<line x1="306.90" y1="216.30" x2="310.10" y2="216.30" stroke="#bb1340" stroke-width="0.9"/>
<polygon points="308.50,212.01 310.30,215.34 306.70,215.34" fill="white" stroke="#bb1340" stroke-width="1.0"/>
<polyline points="197.00,192.10 200.10,208.30 203.50,214.30 208.20,209.60 211.50,204.20 215.60,203.60 219.30,204.20 224.30,204.90 228.80,206.20 236.40,206.60 244.50,207.60 252.50,204.20 260.50,201.50 268.60,201.50 276.60,201.30 284.70,200.90 292.80,201.50 300.50,201.30 308.50,201.50" fill="none" stroke="#34508f" stroke-width="1.0" stroke-linejoin="miter"/>
<line x1="197.00" y1="189.10" x2="197.00" y2="195.10" stroke="#34508f" stroke-width="0.9"/>
<line x1="195.20" y1="189.10" x2="198.80" y2="189.10" stroke="#34508f" stroke-width="0.9"/>
<line x1="195.20" y1="195.10" x2="198.80" y2="195.10" stroke="#34508f" stroke-width="0.9"/>
<polygon points="197.00,190.21 198.80,193.54 195.20,193.54" fill="white" stroke="#34508f" stroke-width="1.0"/>
<line x1="200.10" y1="205.30" x2="200.10" y2="211.30" stroke="#34508f" stroke-width="0.9"/>
<line x1="198.30" y1="205.30" x2="201.90" y2="205.30" stroke="#34508f" stroke-width="0.9"/>
<line x1="198.30" y1="211.30" x2="201.90" y2="211.30" stroke="#34508f" stroke-width="0.9"/>
<polygon points="200.10,206.41 201.90,209.74 198.30,209.74" fill="white" stroke="#34508f" stroke-width="1.0"/>
<line x1="203.50" y1="211.30" x2="203.50" y2="217.30" stroke="#34508f" stroke-width="0.9"/>
<line x1="201.70" y1="211.30" x2="205.30" y2="211.30" stroke="#34508f" stroke-width="0.9"/>
<line x1="201.70" y1="217.30" x2="205.30" y2="217.30" stroke="#34508f" stroke-width="0.9"/>
<polygon points="203.50,212.41 205.30,215.74 201.70,215.74" fill="white" stroke="#34508f" stroke-width="1.0"/>
<line x1="208.20" y1="206.60" x2="208.20" y2="212.60" stroke="#34508f" stroke-width="0.9"/>
<line x1="206.40" y1="206.60" x2="210.00" y2="206.60" stroke="#34508f" stroke-width="0.9"/>
<line x1="206.40" y1="212.60" x2="210.00" y2="212.60" stroke="#34508f" stroke-width="0.9"/>
<polygon points="208.20,207.71 210.00,211.04 206.40,211.04" fill="white" stroke="#34508f" stroke-width="1.0"/>
<line x1="211.50" y1="201.20" x2="211.50" y2="207.20" stroke="#34508f" stroke-width="0.9"/>
<line x1="209.70" y1="201.20" x2="213.30" y2="201.20" stroke="#34508f" stroke-width="0.9"/>
<line x1="209.70" y1="207.20" x2="213.30" y2="207.20" stroke="#34508f" stroke-width="0.9"/>
<polygon points="211.50,202.31 213.30,205.64 209.70,205.64" fill="white" stroke="#34508f" stroke-width="1.0"/>
<line x1="215.60" y1="200.60" x2="215.60" y2="206.60" stroke="#34508f" stroke-width="0.9"/>
<line x1="213.80" y1="200.60" x2="217.40" y2="200.60" stroke="#34508f" stroke-width="0.9"/>
<line x1="213.80" y1="206.60" x2="217.40" y2="206.60" stroke="#34508f" stroke-width="0.9"/>
<polygon points="215.60,201.71 217.40,205.04 213.80,205.04" fill="white" stroke="#34508f" stroke-width="1.0"/>
<line x1="219.30" y1="201.20" x2="219.30" y2="207.20" stroke="#34508f" stroke-width="0.9"/>
<line x1="217.50" y1="201.20" x2="221.10" y2="201.20" stroke="#34508f" stroke-width="0.9"/>
<line x1="217.50" y1="207.20" x2="221.10" y2="207.20" stroke="#34508f" stroke-width="0.9"/>
<polygon points="219.30,202.31 221.10,205.64 217.50,205.64" fill="white" stroke="#34508f" stroke-width="1.0"/>
<line x1="224.30" y1="201.40" x2="224.30" y2="208.40" stroke="#34508f" stroke-width="0.9"/>
<line x1="222.50" y1="201.40" x2="226.10" y2="201.40" stroke="#34508f" stroke-width="0.9"/>
<line x1="222.50" y1="208.40" x2="226.10" y2="208.40" stroke="#34508f" stroke-width="0.9"/>
<polygon points="224.30,203.01 226.10,206.34 222.50,206.34" fill="white" stroke="#34508f" stroke-width="1.0"/>
<line x1="228.80" y1="202.70" x2="228.80" y2="209.70" stroke="#34508f" stroke-width="0.9"/>
<line x1="227.00" y1="202.70" x2="230.60" y2="202.70" stroke="#34508f" stroke-width="0.9"/>
<line x1="227.00" y1="209.70" x2="230.60" y2="209.70" stroke="#34508f" stroke-width="0.9"/>
<polygon points="228.80,204.31 230.60,207.64 227.00,207.64" fill="white" stroke="#34508f" stroke-width="1.0"/>
<line x1="236.40" y1="202.60" x2="236.40" y2="210.60" stroke="#34508f" stroke-width="0.9"/>
<line x1="234.60" y1="202.60" x2="238.20" y2="202.60" stroke="#34508f" stroke-width="0.9"/>
<line x1="234.60" y1="210.60" x2="238.20" y2="210.60" stroke="#34508f" stroke-width="0.9"/>
<polygon points="236.40,204.71 238.20,208.04 234.60,208.04" fill="white" stroke="#34508f" stroke-width="1.0"/>
<line x1="244.50" y1="203.10" x2="244.50" y2="212.10" stroke="#34508f" stroke-width="0.9"/>
<line x1="242.70" y1="203.10" x2="246.30" y2="203.10" stroke="#34508f" stroke-width="0.9"/>
<line x1="242.70" y1="212.10" x2="246.30" y2="212.10" stroke="#34508f" stroke-width="0.9"/>
<polygon points="244.50,205.71 246.30,209.04 242.70,209.04" fill="white" stroke="#34508f" stroke-width="1.0"/>
<line x1="252.50" y1="199.70" x2="252.50" y2="208.70" stroke="#34508f" stroke-width="0.9"/>
<line x1="250.70" y1="199.70" x2="254.30" y2="199.70" stroke="#34508f" stroke-width="0.9"/>
<line x1="250.70" y1="208.70" x2="254.30" y2="208.70" stroke="#34508f" stroke-width="0.9"/>
<polygon points="252.50,202.31 254.30,205.64 250.70,205.64" fill="white" stroke="#34508f" stroke-width="1.0"/>
<line x1="260.50" y1="196.00" x2="260.50" y2="207.00" stroke="#34508f" stroke-width="0.9"/>
<line x1="258.70" y1="196.00" x2="262.30" y2="196.00" stroke="#34508f" stroke-width="0.9"/>
<line x1="258.70" y1="207.00" x2="262.30" y2="207.00" stroke="#34508f" stroke-width="0.9"/>
<polygon points="260.50,199.61 262.30,202.94 258.70,202.94" fill="white" stroke="#34508f" stroke-width="1.0"/>
<line x1="268.60" y1="196.00" x2="268.60" y2="207.00" stroke="#34508f" stroke-width="0.9"/>
<line x1="266.80" y1="196.00" x2="270.40" y2="196.00" stroke="#34508f" stroke-width="0.9"/>
<line x1="266.80" y1="207.00" x2="270.40" y2="207.00" stroke="#34508f" stroke-width="0.9"/>
<polygon points="268.60,199.61 270.40,202.94 266.80,202.94" fill="white" stroke="#34508f" stroke-width="1.0"/>
<line x1="276.60" y1="195.80" x2="276.60" y2="206.80" stroke="#34508f" stroke-width="0.9"/>
<line x1="274.80" y1="195.80" x2="278.40" y2="195.80" stroke="#34508f" stroke-width="0.9"/>
<line x1="274.80" y1="206.80" x2="278.40" y2="206.80" stroke="#34508f" stroke-width="0.9"/>
<polygon points="276.60,199.41 278.40,202.74 274.80,202.74" fill="white" stroke="#34508f" stroke-width="1.0"/>
<line x1="284.70" y1="195.40" x2="284.70" y2="206.40" stroke="#34508f" stroke-width="0.9"/>
<line x1="282.90" y1="195.40" x2="286.50" y2="195.40" stroke="#34508f" stroke-width="0.9"/>
<line x1="282.90" y1="206.40" x2="286.50" y2="206.40" stroke="#34508f" stroke-width="0.9"/>
<polygon points="284.70,199.01 286.50,202.34 282.90,202.34" fill="white" stroke="#34508f" stroke-width="1.0"/>
<line x1="292.80" y1="196.00" x2="292.80" y2="207.00" stroke="#34508f" stroke-width="0.9"/>
<line x1="291.00" y1="196.00" x2="294.60" y2="196.00" stroke="#34508f" stroke-width="0.9"/>
<line x1="291.00" y1="207.00" x2="294.60" y2="207.00" stroke="#34508f" stroke-width="0.9"/>
<polygon points="292.80,199.61 294.60,202.94 291.00,202.94" fill="white" stroke="#34508f" stroke-width="1.0"/>
<line x1="300.50" y1="195.80" x2="300.50" y2="206.80" stroke="#34508f" stroke-width="0.9"/>
<line x1="298.70" y1="195.80" x2="302.30" y2="195.80" stroke="#34508f" stroke-width="0.9"/>
<line x1="298.70" y1="206.80" x2="302.30" y2="206.80" stroke="#34508f" stroke-width="0.9"/>
<polygon points="300.50,199.41 302.30,202.74 298.70,202.74" fill="white" stroke="#34508f" stroke-width="1.0"/>
<line x1="308.50" y1="196.00" x2="308.50" y2="207.00" stroke="#34508f" stroke-width="0.9"/>
<line x1="306.70" y1="196.00" x2="310.30" y2="196.00" stroke="#34508f" stroke-width="0.9"/>
<line x1="306.70" y1="207.00" x2="310.30" y2="207.00" stroke="#34508f" stroke-width="0.9"/>
<polygon points="308.50,199.61 310.30,202.94 306.70,202.94" fill="white" stroke="#34508f" stroke-width="1.0"/>
<circle cx="201.80" cy="223.30" r="1.1" fill="#161616"/>
<circle cx="205.20" cy="223.30" r="1.1" fill="#161616"/>
<circle cx="225.20" cy="225.20" r="1.1" fill="#161616"/>
<circle cx="228.65" cy="225.20" r="1.1" fill="#161616"/>
<circle cx="232.10" cy="225.20" r="1.1" fill="#161616"/>
<circle cx="234.70" cy="230.80" r="1.1" fill="#161616"/>
<circle cx="238.30" cy="230.80" r="1.1" fill="#161616"/>
<circle cx="241.90" cy="234.40" r="1.1" fill="#161616"/>
<circle cx="245.50" cy="234.40" r="1.1" fill="#161616"/>
<line x1="349.10" y1="171.00" x2="349.10" y2="254.85" stroke="#1b1b1b" stroke-width="1.2"/>
<line x1="346.10" y1="173.10" x2="349.10" y2="173.10" stroke="#1b1b1b" stroke-width="1.2"/>
<text x="343.20" y="176.10" font-size="9.0" text-anchor="end" textLength="4.25" lengthAdjust="spacingAndGlyphs" fill="#222" stroke="#222" stroke-width="0.28">8</text>
<line x1="346.10" y1="193.40" x2="349.10" y2="193.40" stroke="#1b1b1b" stroke-width="1.2"/>
<text x="343.20" y="196.40" font-size="9.0" text-anchor="end" textLength="4.25" lengthAdjust="spacingAndGlyphs" fill="#222" stroke="#222" stroke-width="0.28">6</text>
<line x1="346.10" y1="213.70" x2="349.10" y2="213.70" stroke="#1b1b1b" stroke-width="1.2"/>
<text x="343.20" y="216.70" font-size="9.0" text-anchor="end" textLength="4.25" lengthAdjust="spacingAndGlyphs" fill="#222" stroke="#222" stroke-width="0.28">4</text>
<line x1="346.10" y1="234.00" x2="349.10" y2="234.00" stroke="#1b1b1b" stroke-width="1.2"/>
<text x="343.20" y="237.00" font-size="9.0" text-anchor="end" textLength="4.25" lengthAdjust="spacingAndGlyphs" fill="#222" stroke="#222" stroke-width="0.28">2</text>
<line x1="346.10" y1="254.30" x2="349.10" y2="254.30" stroke="#1b1b1b" stroke-width="1.2"/>
<text x="343.20" y="257.30" font-size="9.0" text-anchor="end" textLength="4.25" lengthAdjust="spacingAndGlyphs" fill="#222" stroke="#222" stroke-width="0.28">0</text>
<line x1="348.55" y1="254.40" x2="473.20" y2="254.40" stroke="#1b1b1b" stroke-width="1.2"/>
<line x1="349.00" y1="254.40" x2="349.00" y2="257.40" stroke="#1b1b1b" stroke-width="1.2"/>
<text x="349.00" y="266.60" font-size="9.0" text-anchor="middle" textLength="4.25" lengthAdjust="spacingAndGlyphs" fill="#222" stroke="#222" stroke-width="0.28">0</text>
<line x1="379.30" y1="254.40" x2="379.30" y2="257.40" stroke="#1b1b1b" stroke-width="1.2"/>
<text x="379.30" y="266.60" font-size="9.0" text-anchor="middle" textLength="8.5" lengthAdjust="spacingAndGlyphs" fill="#222" stroke="#222" stroke-width="0.28">25</text>
<line x1="409.60" y1="254.40" x2="409.60" y2="257.40" stroke="#1b1b1b" stroke-width="1.2"/>
<text x="409.60" y="266.60" font-size="9.0" text-anchor="middle" textLength="8.5" lengthAdjust="spacingAndGlyphs" fill="#222" stroke="#222" stroke-width="0.28">50</text>
<line x1="439.90" y1="254.40" x2="439.90" y2="257.40" stroke="#1b1b1b" stroke-width="1.2"/>
<text x="439.90" y="266.60" font-size="9.0" text-anchor="middle" textLength="8.5" lengthAdjust="spacingAndGlyphs" fill="#222" stroke="#222" stroke-width="0.28">75</text>
<line x1="470.20" y1="254.40" x2="470.20" y2="257.40" stroke="#1b1b1b" stroke-width="1.2"/>
<text x="470.20" y="266.60" font-size="9.0" text-anchor="middle" textLength="12.75" lengthAdjust="spacingAndGlyphs" fill="#222" stroke="#222" stroke-width="0.28">100</text>
<text transform="translate(334.20,212.40) rotate(-90)" font-size="9.8" text-anchor="middle" textLength="47.2" lengthAdjust="spacingAndGlyphs" fill="#222" stroke="#222" stroke-width="0.28">Clinical scores</text>
<text x="411.30" y="280.10" font-size="9.8" text-anchor="middle" textLength="67.7" lengthAdjust="spacingAndGlyphs" fill="#222" stroke="#222" stroke-width="0.28">Days post transplant</text>
<polyline points="349.10,254.30 352.90,242.60 356.40,246.40 360.90,251.50 364.70,251.50 369.10,251.50 373.20,251.50 378.40,251.50 383.10,251.50 391.60,251.50 400.10,251.50 408.60,250.70 417.00,250.70 425.50,250.70 434.00,250.70 442.50,250.70 450.90,250.70 459.40,250.70 467.90,250.70" fill="none" stroke="#6cb33f" stroke-width="1.0" stroke-linejoin="miter"/>
<circle cx="352.90" cy="242.60" r="1.75" fill="#6cb33f" stroke="#6cb33f" stroke-width="0.9"/>
<circle cx="356.40" cy="246.40" r="1.75" fill="#6cb33f" stroke="#6cb33f" stroke-width="0.9"/>
<circle cx="360.90" cy="251.50" r="1.75" fill="#6cb33f" stroke="#6cb33f" stroke-width="0.9"/>
<circle cx="364.70" cy="251.50" r="1.75" fill="#6cb33f" stroke="#6cb33f" stroke-width="0.9"/>
<circle cx="369.10" cy="251.50" r="1.75" fill="#6cb33f" stroke="#6cb33f" stroke-width="0.9"/>
<circle cx="373.20" cy="251.50" r="1.75" fill="#6cb33f" stroke="#6cb33f" stroke-width="0.9"/>
<circle cx="378.40" cy="251.50" r="1.75" fill="#6cb33f" stroke="#6cb33f" stroke-width="0.9"/>
<circle cx="383.10" cy="251.50" r="1.75" fill="#6cb33f" stroke="#6cb33f" stroke-width="0.9"/>
<line x1="391.60" y1="249.20" x2="391.60" y2="253.80" stroke="#6cb33f" stroke-width="1.0"/>
<line x1="390.00" y1="249.20" x2="393.20" y2="249.20" stroke="#6cb33f" stroke-width="1.0"/>
<line x1="390.00" y1="253.80" x2="393.20" y2="253.80" stroke="#6cb33f" stroke-width="1.0"/>
<circle cx="391.60" cy="251.50" r="1.75" fill="#6cb33f" stroke="#6cb33f" stroke-width="0.9"/>
<line x1="400.10" y1="249.20" x2="400.10" y2="253.80" stroke="#6cb33f" stroke-width="1.0"/>
<line x1="398.50" y1="249.20" x2="401.70" y2="249.20" stroke="#6cb33f" stroke-width="1.0"/>
<line x1="398.50" y1="253.80" x2="401.70" y2="253.80" stroke="#6cb33f" stroke-width="1.0"/>
<circle cx="400.10" cy="251.50" r="1.75" fill="#6cb33f" stroke="#6cb33f" stroke-width="0.9"/>
<line x1="408.60" y1="248.40" x2="408.60" y2="253.00" stroke="#6cb33f" stroke-width="1.0"/>
<line x1="407.00" y1="248.40" x2="410.20" y2="248.40" stroke="#6cb33f" stroke-width="1.0"/>
<line x1="407.00" y1="253.00" x2="410.20" y2="253.00" stroke="#6cb33f" stroke-width="1.0"/>
<circle cx="408.60" cy="250.70" r="1.75" fill="#6cb33f" stroke="#6cb33f" stroke-width="0.9"/>
<line x1="417.00" y1="248.40" x2="417.00" y2="253.00" stroke="#6cb33f" stroke-width="1.0"/>
<line x1="415.40" y1="248.40" x2="418.60" y2="248.40" stroke="#6cb33f" stroke-width="1.0"/>
<line x1="415.40" y1="253.00" x2="418.60" y2="253.00" stroke="#6cb33f" stroke-width="1.0"/>
<circle cx="417.00" cy="250.70" r="1.75" fill="#6cb33f" stroke="#6cb33f" stroke-width="0.9"/>
<line x1="425.50" y1="248.40" x2="425.50" y2="253.00" stroke="#6cb33f" stroke-width="1.0"/>
<line x1="423.90" y1="248.40" x2="427.10" y2="248.40" stroke="#6cb33f" stroke-width="1.0"/>
<line x1="423.90" y1="253.00" x2="427.10" y2="253.00" stroke="#6cb33f" stroke-width="1.0"/>
<circle cx="425.50" cy="250.70" r="1.75" fill="#6cb33f" stroke="#6cb33f" stroke-width="0.9"/>
<line x1="434.00" y1="248.40" x2="434.00" y2="253.00" stroke="#6cb33f" stroke-width="1.0"/>
<line x1="432.40" y1="248.40" x2="435.60" y2="248.40" stroke="#6cb33f" stroke-width="1.0"/>
<line x1="432.40" y1="253.00" x2="435.60" y2="253.00" stroke="#6cb33f" stroke-width="1.0"/>
<circle cx="434.00" cy="250.70" r="1.75" fill="#6cb33f" stroke="#6cb33f" stroke-width="0.9"/>
<line x1="442.50" y1="248.40" x2="442.50" y2="253.00" stroke="#6cb33f" stroke-width="1.0"/>
<line x1="440.90" y1="248.40" x2="444.10" y2="248.40" stroke="#6cb33f" stroke-width="1.0"/>
<line x1="440.90" y1="253.00" x2="444.10" y2="253.00" stroke="#6cb33f" stroke-width="1.0"/>
<circle cx="442.50" cy="250.70" r="1.75" fill="#6cb33f" stroke="#6cb33f" stroke-width="0.9"/>
<line x1="450.90" y1="248.40" x2="450.90" y2="253.00" stroke="#6cb33f" stroke-width="1.0"/>
<line x1="449.30" y1="248.40" x2="452.50" y2="248.40" stroke="#6cb33f" stroke-width="1.0"/>
<line x1="449.30" y1="253.00" x2="452.50" y2="253.00" stroke="#6cb33f" stroke-width="1.0"/>
<circle cx="450.90" cy="250.70" r="1.75" fill="#6cb33f" stroke="#6cb33f" stroke-width="0.9"/>
<line x1="459.40" y1="248.40" x2="459.40" y2="253.00" stroke="#6cb33f" stroke-width="1.0"/>
<line x1="457.80" y1="248.40" x2="461.00" y2="248.40" stroke="#6cb33f" stroke-width="1.0"/>
<line x1="457.80" y1="253.00" x2="461.00" y2="253.00" stroke="#6cb33f" stroke-width="1.0"/>
<circle cx="459.40" cy="250.70" r="1.75" fill="#6cb33f" stroke="#6cb33f" stroke-width="0.9"/>
<line x1="467.90" y1="248.40" x2="467.90" y2="253.00" stroke="#6cb33f" stroke-width="1.0"/>
<line x1="466.30" y1="248.40" x2="469.50" y2="248.40" stroke="#6cb33f" stroke-width="1.0"/>
<line x1="466.30" y1="253.00" x2="469.50" y2="253.00" stroke="#6cb33f" stroke-width="1.0"/>
<circle cx="467.90" cy="250.70" r="1.75" fill="#6cb33f" stroke="#6cb33f" stroke-width="0.9"/>
<polyline points="349.10,254.30 352.90,241.90 356.40,236.20 360.90,234.30 364.70,243.20 369.10,238.80 373.20,236.20 378.40,219.80 383.10,211.00 391.60,199.60 400.10,190.20 408.60,190.90 417.00,191.50 425.50,204.10 434.00,204.10 442.50,204.10 450.90,204.10 459.40,204.10 467.90,204.10" fill="none" stroke="#bb1340" stroke-width="1.1" stroke-linejoin="miter"/>
<polygon points="349.10,252.20 351.10,255.90 347.10,255.90" fill="white" stroke="#bb1340" stroke-width="1.0"/>
<line x1="352.90" y1="240.40" x2="352.90" y2="243.40" stroke="#bb1340" stroke-width="0.9"/>
<line x1="350.50" y1="240.40" x2="355.30" y2="240.40" stroke="#bb1340" stroke-width="0.9"/>
<line x1="350.50" y1="243.40" x2="355.30" y2="243.40" stroke="#bb1340" stroke-width="0.9"/>
<polygon points="352.90,239.80 354.90,243.50 350.90,243.50" fill="white" stroke="#bb1340" stroke-width="1.0"/>
<line x1="356.40" y1="234.70" x2="356.40" y2="237.70" stroke="#bb1340" stroke-width="0.9"/>
<line x1="354.00" y1="234.70" x2="358.80" y2="234.70" stroke="#bb1340" stroke-width="0.9"/>
<line x1="354.00" y1="237.70" x2="358.80" y2="237.70" stroke="#bb1340" stroke-width="0.9"/>
<polygon points="356.40,234.10 358.40,237.80 354.40,237.80" fill="white" stroke="#bb1340" stroke-width="1.0"/>
<line x1="360.90" y1="232.80" x2="360.90" y2="235.80" stroke="#bb1340" stroke-width="0.9"/>
<line x1="358.50" y1="232.80" x2="363.30" y2="232.80" stroke="#bb1340" stroke-width="0.9"/>
<line x1="358.50" y1="235.80" x2="363.30" y2="235.80" stroke="#bb1340" stroke-width="0.9"/>
<polygon points="360.90,232.20 362.90,235.90 358.90,235.90" fill="white" stroke="#bb1340" stroke-width="1.0"/>
<line x1="364.70" y1="241.70" x2="364.70" y2="244.70" stroke="#bb1340" stroke-width="0.9"/>
<line x1="362.30" y1="241.70" x2="367.10" y2="241.70" stroke="#bb1340" stroke-width="0.9"/>
<line x1="362.30" y1="244.70" x2="367.10" y2="244.70" stroke="#bb1340" stroke-width="0.9"/>
<polygon points="364.70,241.10 366.70,244.80 362.70,244.80" fill="white" stroke="#bb1340" stroke-width="1.0"/>
<line x1="369.10" y1="237.30" x2="369.10" y2="240.30" stroke="#bb1340" stroke-width="0.9"/>
<line x1="366.70" y1="237.30" x2="371.50" y2="237.30" stroke="#bb1340" stroke-width="0.9"/>
<line x1="366.70" y1="240.30" x2="371.50" y2="240.30" stroke="#bb1340" stroke-width="0.9"/>
<polygon points="369.10,236.70 371.10,240.40 367.10,240.40" fill="white" stroke="#bb1340" stroke-width="1.0"/>
<line x1="373.20" y1="234.70" x2="373.20" y2="237.70" stroke="#bb1340" stroke-width="0.9"/>
<line x1="370.80" y1="234.70" x2="375.60" y2="234.70" stroke="#bb1340" stroke-width="0.9"/>
<line x1="370.80" y1="237.70" x2="375.60" y2="237.70" stroke="#bb1340" stroke-width="0.9"/>
<polygon points="373.20,234.10 375.20,237.80 371.20,237.80" fill="white" stroke="#bb1340" stroke-width="1.0"/>
<line x1="378.40" y1="216.30" x2="378.40" y2="223.30" stroke="#bb1340" stroke-width="0.9"/>
<line x1="376.00" y1="216.30" x2="380.80" y2="216.30" stroke="#bb1340" stroke-width="0.9"/>
<line x1="376.00" y1="223.30" x2="380.80" y2="223.30" stroke="#bb1340" stroke-width="0.9"/>
<polygon points="378.40,217.70 380.40,221.40 376.40,221.40" fill="white" stroke="#bb1340" stroke-width="1.0"/>
<line x1="383.10" y1="206.50" x2="383.10" y2="215.50" stroke="#bb1340" stroke-width="0.9"/>
<line x1="380.70" y1="206.50" x2="385.50" y2="206.50" stroke="#bb1340" stroke-width="0.9"/>
<line x1="380.70" y1="215.50" x2="385.50" y2="215.50" stroke="#bb1340" stroke-width="0.9"/>
<polygon points="383.10,208.90 385.10,212.60 381.10,212.60" fill="white" stroke="#bb1340" stroke-width="1.0"/>
<line x1="391.60" y1="198.10" x2="391.60" y2="201.10" stroke="#bb1340" stroke-width="0.9"/>
<line x1="389.20" y1="198.10" x2="394.00" y2="198.10" stroke="#bb1340" stroke-width="0.9"/>
<line x1="389.20" y1="201.10" x2="394.00" y2="201.10" stroke="#bb1340" stroke-width="0.9"/>
<polygon points="391.60,197.50 393.60,201.20 389.60,201.20" fill="white" stroke="#bb1340" stroke-width="1.0"/>
<line x1="400.10" y1="186.40" x2="400.10" y2="194.00" stroke="#bb1340" stroke-width="0.9"/>
<line x1="397.70" y1="186.40" x2="402.50" y2="186.40" stroke="#bb1340" stroke-width="0.9"/>
<line x1="397.70" y1="194.00" x2="402.50" y2="194.00" stroke="#bb1340" stroke-width="0.9"/>
<polygon points="400.10,188.10 402.10,191.80 398.10,191.80" fill="white" stroke="#bb1340" stroke-width="1.0"/>
<line x1="408.60" y1="183.60" x2="408.60" y2="198.20" stroke="#bb1340" stroke-width="0.9"/>
<line x1="406.20" y1="183.60" x2="411.00" y2="183.60" stroke="#bb1340" stroke-width="0.9"/>
<line x1="406.20" y1="198.20" x2="411.00" y2="198.20" stroke="#bb1340" stroke-width="0.9"/>
<polygon points="408.60,188.80 410.60,192.50 406.60,192.50" fill="white" stroke="#bb1340" stroke-width="1.0"/>
<line x1="417.00" y1="179.20" x2="417.00" y2="203.80" stroke="#bb1340" stroke-width="0.9"/>
<line x1="414.60" y1="179.20" x2="419.40" y2="179.20" stroke="#bb1340" stroke-width="0.9"/>
<line x1="414.60" y1="203.80" x2="419.40" y2="203.80" stroke="#bb1340" stroke-width="0.9"/>
<polygon points="417.00,189.40 419.00,193.10 415.00,193.10" fill="white" stroke="#bb1340" stroke-width="1.0"/>
<line x1="425.50" y1="202.60" x2="425.50" y2="205.60" stroke="#bb1340" stroke-width="0.9"/>
<line x1="423.10" y1="202.60" x2="427.90" y2="202.60" stroke="#bb1340" stroke-width="0.9"/>
<line x1="423.10" y1="205.60" x2="427.90" y2="205.60" stroke="#bb1340" stroke-width="0.9"/>
<polygon points="425.50,202.00 427.50,205.70 423.50,205.70" fill="white" stroke="#bb1340" stroke-width="1.0"/>
<line x1="434.00" y1="202.60" x2="434.00" y2="205.60" stroke="#bb1340" stroke-width="0.9"/>
<line x1="431.60" y1="202.60" x2="436.40" y2="202.60" stroke="#bb1340" stroke-width="0.9"/>
<line x1="431.60" y1="205.60" x2="436.40" y2="205.60" stroke="#bb1340" stroke-width="0.9"/>
<polygon points="434.00,202.00 436.00,205.70 432.00,205.70" fill="white" stroke="#bb1340" stroke-width="1.0"/>
<line x1="442.50" y1="202.60" x2="442.50" y2="205.60" stroke="#bb1340" stroke-width="0.9"/>
<line x1="440.10" y1="202.60" x2="444.90" y2="202.60" stroke="#bb1340" stroke-width="0.9"/>
<line x1="440.10" y1="205.60" x2="444.90" y2="205.60" stroke="#bb1340" stroke-width="0.9"/>
<polygon points="442.50,202.00 444.50,205.70 440.50,205.70" fill="white" stroke="#bb1340" stroke-width="1.0"/>
<line x1="450.90" y1="202.60" x2="450.90" y2="205.60" stroke="#bb1340" stroke-width="0.9"/>
<line x1="448.50" y1="202.60" x2="453.30" y2="202.60" stroke="#bb1340" stroke-width="0.9"/>
<line x1="448.50" y1="205.60" x2="453.30" y2="205.60" stroke="#bb1340" stroke-width="0.9"/>
<polygon points="450.90,202.00 452.90,205.70 448.90,205.70" fill="white" stroke="#bb1340" stroke-width="1.0"/>
<line x1="459.40" y1="202.60" x2="459.40" y2="205.60" stroke="#bb1340" stroke-width="0.9"/>
<line x1="457.00" y1="202.60" x2="461.80" y2="202.60" stroke="#bb1340" stroke-width="0.9"/>
<line x1="457.00" y1="205.60" x2="461.80" y2="205.60" stroke="#bb1340" stroke-width="0.9"/>
<polygon points="459.40,202.00 461.40,205.70 457.40,205.70" fill="white" stroke="#bb1340" stroke-width="1.0"/>
<line x1="467.90" y1="202.60" x2="467.90" y2="205.60" stroke="#bb1340" stroke-width="0.9"/>
<line x1="465.50" y1="202.60" x2="470.30" y2="202.60" stroke="#bb1340" stroke-width="0.9"/>
<line x1="465.50" y1="205.60" x2="470.30" y2="205.60" stroke="#bb1340" stroke-width="0.9"/>
<polygon points="467.90,202.00 469.90,205.70 465.90,205.70" fill="white" stroke="#bb1340" stroke-width="1.0"/>
<polyline points="349.10,254.30 352.90,238.80 356.40,239.40 360.90,234.30 364.70,236.20 369.10,239.40 373.20,240.40 378.40,232.50 383.10,229.50 391.60,228.90 400.10,226.10 408.60,222.90 417.00,221.90 425.50,222.50 434.00,222.50 442.50,222.50 450.90,222.50 459.40,222.50 467.90,222.50" fill="none" stroke="#34508f" stroke-width="1.0" stroke-linejoin="miter"/>
<polygon points="349.10,252.20 351.10,255.90 347.10,255.90" fill="white" stroke="#34508f" stroke-width="1.0"/>
<line x1="352.90" y1="237.30" x2="352.90" y2="240.30" stroke="#34508f" stroke-width="0.9"/>
<line x1="350.70" y1="237.30" x2="355.10" y2="237.30" stroke="#34508f" stroke-width="0.9"/>
<line x1="350.70" y1="240.30" x2="355.10" y2="240.30" stroke="#34508f" stroke-width="0.9"/>
<polygon points="352.90,236.70 354.90,240.40 350.90,240.40" fill="white" stroke="#34508f" stroke-width="1.0"/>
<line x1="356.40" y1="237.90" x2="356.40" y2="240.90" stroke="#34508f" stroke-width="0.9"/>
<line x1="354.20" y1="237.90" x2="358.60" y2="237.90" stroke="#34508f" stroke-width="0.9"/>
<line x1="354.20" y1="240.90" x2="358.60" y2="240.90" stroke="#34508f" stroke-width="0.9"/>
<polygon points="356.40,237.30 358.40,241.00 354.40,241.00" fill="white" stroke="#34508f" stroke-width="1.0"/>
<line x1="360.90" y1="232.80" x2="360.90" y2="235.80" stroke="#34508f" stroke-width="0.9"/>
<line x1="358.70" y1="232.80" x2="363.10" y2="232.80" stroke="#34508f" stroke-width="0.9"/>
<line x1="358.70" y1="235.80" x2="363.10" y2="235.80" stroke="#34508f" stroke-width="0.9"/>
<polygon points="360.90,232.20 362.90,235.90 358.90,235.90" fill="white" stroke="#34508f" stroke-width="1.0"/>
<line x1="364.70" y1="234.70" x2="364.70" y2="237.70" stroke="#34508f" stroke-width="0.9"/>
<line x1="362.50" y1="234.70" x2="366.90" y2="234.70" stroke="#34508f" stroke-width="0.9"/>
<line x1="362.50" y1="237.70" x2="366.90" y2="237.70" stroke="#34508f" stroke-width="0.9"/>
<polygon points="364.70,234.10 366.70,237.80 362.70,237.80" fill="white" stroke="#34508f" stroke-width="1.0"/>
<line x1="369.10" y1="237.90" x2="369.10" y2="240.90" stroke="#34508f" stroke-width="0.9"/>
<line x1="366.90" y1="237.90" x2="371.30" y2="237.90" stroke="#34508f" stroke-width="0.9"/>
<line x1="366.90" y1="240.90" x2="371.30" y2="240.90" stroke="#34508f" stroke-width="0.9"/>
<polygon points="369.10,237.30 371.10,241.00 367.10,241.00" fill="white" stroke="#34508f" stroke-width="1.0"/>
<line x1="373.20" y1="238.90" x2="373.20" y2="241.90" stroke="#34508f" stroke-width="0.9"/>
<line x1="371.00" y1="238.90" x2="375.40" y2="238.90" stroke="#34508f" stroke-width="0.9"/>
<line x1="371.00" y1="241.90" x2="375.40" y2="241.90" stroke="#34508f" stroke-width="0.9"/>
<polygon points="373.20,238.30 375.20,242.00 371.20,242.00" fill="white" stroke="#34508f" stroke-width="1.0"/>
<line x1="378.40" y1="231.00" x2="378.40" y2="234.00" stroke="#34508f" stroke-width="0.9"/>
<line x1="376.20" y1="231.00" x2="380.60" y2="231.00" stroke="#34508f" stroke-width="0.9"/>
<line x1="376.20" y1="234.00" x2="380.60" y2="234.00" stroke="#34508f" stroke-width="0.9"/>
<polygon points="378.40,230.40 380.40,234.10 376.40,234.10" fill="white" stroke="#34508f" stroke-width="1.0"/>
<line x1="383.10" y1="227.50" x2="383.10" y2="231.50" stroke="#34508f" stroke-width="0.9"/>
<line x1="380.90" y1="227.50" x2="385.30" y2="227.50" stroke="#34508f" stroke-width="0.9"/>
<line x1="380.90" y1="231.50" x2="385.30" y2="231.50" stroke="#34508f" stroke-width="0.9"/>
<polygon points="383.10,227.40 385.10,231.10 381.10,231.10" fill="white" stroke="#34508f" stroke-width="1.0"/>
<line x1="391.60" y1="226.40" x2="391.60" y2="231.40" stroke="#34508f" stroke-width="0.9"/>
<line x1="389.40" y1="226.40" x2="393.80" y2="226.40" stroke="#34508f" stroke-width="0.9"/>
<line x1="389.40" y1="231.40" x2="393.80" y2="231.40" stroke="#34508f" stroke-width="0.9"/>
<polygon points="391.60,226.80 393.60,230.50 389.60,230.50" fill="white" stroke="#34508f" stroke-width="1.0"/>
<line x1="400.10" y1="223.10" x2="400.10" y2="229.10" stroke="#34508f" stroke-width="0.9"/>
<line x1="397.90" y1="223.10" x2="402.30" y2="223.10" stroke="#34508f" stroke-width="0.9"/>
<line x1="397.90" y1="229.10" x2="402.30" y2="229.10" stroke="#34508f" stroke-width="0.9"/>
<polygon points="400.10,224.00 402.10,227.70 398.10,227.70" fill="white" stroke="#34508f" stroke-width="1.0"/>
<line x1="408.60" y1="219.40" x2="408.60" y2="226.40" stroke="#34508f" stroke-width="0.9"/>
<line x1="406.40" y1="219.40" x2="410.80" y2="219.40" stroke="#34508f" stroke-width="0.9"/>
<line x1="406.40" y1="226.40" x2="410.80" y2="226.40" stroke="#34508f" stroke-width="0.9"/>
<polygon points="408.60,220.80 410.60,224.50 406.60,224.50" fill="white" stroke="#34508f" stroke-width="1.0"/>
<line x1="417.00" y1="217.90" x2="417.00" y2="225.90" stroke="#34508f" stroke-width="0.9"/>
<line x1="414.80" y1="217.90" x2="419.20" y2="217.90" stroke="#34508f" stroke-width="0.9"/>
<line x1="414.80" y1="225.90" x2="419.20" y2="225.90" stroke="#34508f" stroke-width="0.9"/>
<polygon points="417.00,219.80 419.00,223.50 415.00,223.50" fill="white" stroke="#34508f" stroke-width="1.0"/>
<line x1="425.50" y1="218.50" x2="425.50" y2="226.50" stroke="#34508f" stroke-width="0.9"/>
<line x1="423.30" y1="218.50" x2="427.70" y2="218.50" stroke="#34508f" stroke-width="0.9"/>
<line x1="423.30" y1="226.50" x2="427.70" y2="226.50" stroke="#34508f" stroke-width="0.9"/>
<polygon points="425.50,220.40 427.50,224.10 423.50,224.10" fill="white" stroke="#34508f" stroke-width="1.0"/>
<line x1="434.00" y1="218.50" x2="434.00" y2="226.50" stroke="#34508f" stroke-width="0.9"/>
<line x1="431.80" y1="218.50" x2="436.20" y2="218.50" stroke="#34508f" stroke-width="0.9"/>
<line x1="431.80" y1="226.50" x2="436.20" y2="226.50" stroke="#34508f" stroke-width="0.9"/>
<polygon points="434.00,220.40 436.00,224.10 432.00,224.10" fill="white" stroke="#34508f" stroke-width="1.0"/>
<line x1="442.50" y1="218.50" x2="442.50" y2="226.50" stroke="#34508f" stroke-width="0.9"/>
<line x1="440.30" y1="218.50" x2="444.70" y2="218.50" stroke="#34508f" stroke-width="0.9"/>
<line x1="440.30" y1="226.50" x2="444.70" y2="226.50" stroke="#34508f" stroke-width="0.9"/>
<polygon points="442.50,220.40 444.50,224.10 440.50,224.10" fill="white" stroke="#34508f" stroke-width="1.0"/>
<line x1="450.90" y1="218.50" x2="450.90" y2="226.50" stroke="#34508f" stroke-width="0.9"/>
<line x1="448.70" y1="218.50" x2="453.10" y2="218.50" stroke="#34508f" stroke-width="0.9"/>
<line x1="448.70" y1="226.50" x2="453.10" y2="226.50" stroke="#34508f" stroke-width="0.9"/>
<polygon points="450.90,220.40 452.90,224.10 448.90,224.10" fill="white" stroke="#34508f" stroke-width="1.0"/>
<line x1="459.40" y1="218.50" x2="459.40" y2="226.50" stroke="#34508f" stroke-width="0.9"/>
<line x1="457.20" y1="218.50" x2="461.60" y2="218.50" stroke="#34508f" stroke-width="0.9"/>
<line x1="457.20" y1="226.50" x2="461.60" y2="226.50" stroke="#34508f" stroke-width="0.9"/>
<polygon points="459.40,220.40 461.40,224.10 457.40,224.10" fill="white" stroke="#34508f" stroke-width="1.0"/>
<line x1="467.90" y1="218.50" x2="467.90" y2="226.50" stroke="#34508f" stroke-width="0.9"/>
<line x1="465.70" y1="218.50" x2="470.10" y2="218.50" stroke="#34508f" stroke-width="0.9"/>
<line x1="465.70" y1="226.50" x2="470.10" y2="226.50" stroke="#34508f" stroke-width="0.9"/>
<polygon points="467.90,220.40 469.90,224.10 465.90,224.10" fill="white" stroke="#34508f" stroke-width="1.0"/>
<circle cx="371.40" cy="229.90" r="1.1" fill="#161616"/>
<circle cx="371.75" cy="216.70" r="1.1" fill="#161616"/>
<circle cx="375.25" cy="216.70" r="1.1" fill="#161616"/>
<circle cx="378.55" cy="202.70" r="1.1" fill="#161616"/>
<circle cx="381.85" cy="202.70" r="1.1" fill="#161616"/>
<circle cx="385.08" cy="192.20" r="1.1" fill="#161616"/>
<circle cx="388.43" cy="192.20" r="1.1" fill="#161616"/>
<circle cx="391.78" cy="192.20" r="1.1" fill="#161616"/>
<circle cx="395.13" cy="192.20" r="1.1" fill="#161616"/>
<circle cx="394.59" cy="181.40" r="1.1" fill="#161616"/>
<circle cx="397.96" cy="181.40" r="1.1" fill="#161616"/>
<circle cx="401.33" cy="181.40" r="1.1" fill="#161616"/>
<circle cx="404.70" cy="181.40" r="1.1" fill="#161616"/>
<circle cx="407.90" cy="201.00" r="1.1" fill="#161616"/>
<circle cx="411.30" cy="201.00" r="1.1" fill="#161616"/>
<line x1="436.30" y1="164.30" x2="445.00" y2="164.30" stroke="#6cb33f" stroke-width="1.0"/>
<circle cx="440.65" cy="164.30" r="1.0" fill="#6cb33f" stroke="#6cb33f" stroke-width="0.9"/>
<text x="448.80" y="166.60" font-size="8.4" textLength="11.3" lengthAdjust="spacingAndGlyphs" fill="#222" stroke="#222" stroke-width="0.28">BM</text>
<line x1="436.30" y1="175.50" x2="445.00" y2="175.50" stroke="#bb1340" stroke-width="1.0"/>
<polygon points="440.65,173.72 442.35,176.86 438.95,176.86" fill="white" stroke="#bb1340" stroke-width="0.9"/>
<text x="448.80" y="177.80" font-size="8.4" textLength="57.4" lengthAdjust="spacingAndGlyphs" fill="#222" stroke="#222" stroke-width="0.28">BM + T + Vehicle</text>
<line x1="436.30" y1="186.50" x2="445.00" y2="186.50" stroke="#34508f" stroke-width="1.0"/>
<polygon points="440.65,184.72 442.35,187.86 438.95,187.86" fill="white" stroke="#34508f" stroke-width="0.9"/>
<text x="448.80" y="188.80" font-size="8.4" textLength="61.6" lengthAdjust="spacingAndGlyphs" fill="#222" stroke="#222" stroke-width="0.28">BM + T + IRX4204</text>
<line x1="39.70" y1="338.00" x2="39.70" y2="433.75" stroke="#1b1b1b" stroke-width="1.2"/>
<line x1="36.70" y1="340.00" x2="39.70" y2="340.00" stroke="#1b1b1b" stroke-width="1.2"/>
<text x="33.40" y="343.00" font-size="9.0" text-anchor="end" textLength="4.25" lengthAdjust="spacingAndGlyphs" fill="#222" stroke="#222" stroke-width="0.28">4</text>
<line x1="36.70" y1="363.30" x2="39.70" y2="363.30" stroke="#1b1b1b" stroke-width="1.2"/>
<text x="33.40" y="366.30" font-size="9.0" text-anchor="end" textLength="4.25" lengthAdjust="spacingAndGlyphs" fill="#222" stroke="#222" stroke-width="0.28">3</text>
<line x1="36.70" y1="386.60" x2="39.70" y2="386.60" stroke="#1b1b1b" stroke-width="1.2"/>
<text x="33.40" y="389.60" font-size="9.0" text-anchor="end" textLength="4.25" lengthAdjust="spacingAndGlyphs" fill="#222" stroke="#222" stroke-width="0.28">2</text>
<line x1="36.70" y1="409.90" x2="39.70" y2="409.90" stroke="#1b1b1b" stroke-width="1.2"/>
<text x="33.40" y="412.90" font-size="9.0" text-anchor="end" textLength="4.25" lengthAdjust="spacingAndGlyphs" fill="#222" stroke="#222" stroke-width="0.28">1</text>
<line x1="36.70" y1="433.20" x2="39.70" y2="433.20" stroke="#1b1b1b" stroke-width="1.2"/>
<text x="33.40" y="436.20" font-size="9.0" text-anchor="end" textLength="4.25" lengthAdjust="spacingAndGlyphs" fill="#222" stroke="#222" stroke-width="0.28">0</text>
<line x1="39.10" y1="433.20" x2="198.10" y2="433.20" stroke="#1b1b1b" stroke-width="1.2"/>
<text transform="translate(22.60,385.00) rotate(-90)" font-size="8.2" text-anchor="middle" textLength="52.6" lengthAdjust="spacingAndGlyphs" fill="#222" stroke="#222" stroke-width="0.28">Pathology score</text>
<text x="91.00" y="331.00" font-size="8.4" textLength="8.9" lengthAdjust="spacingAndGlyphs" fill="#222" stroke="#222" stroke-width="0.28">B6</text>
<line x1="102.90" y1="328.35" x2="111.20" y2="328.35" stroke="#111" stroke-width="1.2"/>
<polygon points="115.20,328.35 109.80,325.95 110.80,328.35 109.80,330.75" fill="#111" stroke="#111" stroke-width="0.4" stroke-linejoin="round"/>
<text x="119.00" y="331.00" font-size="8.4" textLength="26.3" lengthAdjust="spacingAndGlyphs" fill="#222" stroke="#222" stroke-width="0.28">BALB/c</text>
<line x1="48.30" y1="409.90" x2="48.30" y2="419.22" stroke="#5c3c1c" stroke-width="0.9"/>
<line x1="46.90" y1="409.90" x2="49.70" y2="409.90" stroke="#5c3c1c" stroke-width="0.9"/>
<line x1="46.90" y1="419.22" x2="49.70" y2="419.22" stroke="#5c3c1c" stroke-width="0.9"/>
<rect x="44.80" y="419.22" width="7" height="13.98" fill="#5c3c1c"/>
<line x1="48.30" y1="433.20" x2="48.30" y2="435.90" stroke="#1b1b1b" stroke-width="1.2"/>
<line x1="59.40" y1="383.57" x2="59.40" y2="386.60" stroke="#5c3c1c" stroke-width="0.9"/>
<line x1="58.00" y1="383.57" x2="60.80" y2="383.57" stroke="#5c3c1c" stroke-width="0.9"/>
<line x1="58.00" y1="386.60" x2="60.80" y2="386.60" stroke="#5c3c1c" stroke-width="0.9"/>
<rect x="55.90" y="386.60" width="7" height="46.60" fill="#5c3c1c"/>
<line x1="59.40" y1="433.20" x2="59.40" y2="435.90" stroke="#1b1b1b" stroke-width="1.2"/>
<line x1="70.00" y1="397.32" x2="70.00" y2="402.21" stroke="#5c3c1c" stroke-width="0.9"/>
<line x1="68.60" y1="397.32" x2="71.40" y2="397.32" stroke="#5c3c1c" stroke-width="0.9"/>
<line x1="68.60" y1="402.21" x2="71.40" y2="402.21" stroke="#5c3c1c" stroke-width="0.9"/>
<rect x="66.50" y="402.21" width="7" height="30.99" fill="#5c3c1c"/>
<line x1="70.00" y1="433.20" x2="70.00" y2="435.90" stroke="#1b1b1b" stroke-width="1.2"/>
<rect x="84.60" y="386.60" width="7" height="46.60" fill="#a6042c"/>
<line x1="88.10" y1="433.20" x2="88.10" y2="435.90" stroke="#1b1b1b" stroke-width="1.2"/>
<line x1="98.90" y1="373.32" x2="98.90" y2="377.28" stroke="#a6042c" stroke-width="0.9"/>
<line x1="97.50" y1="373.32" x2="100.30" y2="373.32" stroke="#a6042c" stroke-width="0.9"/>
<line x1="97.50" y1="377.28" x2="100.30" y2="377.28" stroke="#a6042c" stroke-width="0.9"/>
<rect x="95.40" y="377.28" width="7" height="55.92" fill="#a6042c"/>
<line x1="98.90" y1="433.20" x2="98.90" y2="435.90" stroke="#1b1b1b" stroke-width="1.2"/>
<line x1="109.90" y1="381.24" x2="109.90" y2="383.57" stroke="#a6042c" stroke-width="0.9"/>
<line x1="108.50" y1="381.24" x2="111.30" y2="381.24" stroke="#a6042c" stroke-width="0.9"/>
<line x1="108.50" y1="383.57" x2="111.30" y2="383.57" stroke="#a6042c" stroke-width="0.9"/>
<rect x="106.40" y="383.57" width="7" height="49.63" fill="#a6042c"/>
<line x1="109.90" y1="433.20" x2="109.90" y2="435.90" stroke="#1b1b1b" stroke-width="1.2"/>
<line x1="127.90" y1="396.85" x2="127.90" y2="404.54" stroke="#6ea846" stroke-width="0.9"/>
<line x1="126.50" y1="396.85" x2="129.30" y2="396.85" stroke="#6ea846" stroke-width="0.9"/>
<line x1="126.50" y1="404.54" x2="129.30" y2="404.54" stroke="#6ea846" stroke-width="0.9"/>
<rect x="124.40" y="404.54" width="7" height="28.66" fill="#6ea846"/>
<line x1="127.90" y1="433.20" x2="127.90" y2="435.90" stroke="#1b1b1b" stroke-width="1.2"/>
<line x1="138.70" y1="385.67" x2="138.70" y2="391.26" stroke="#6ea846" stroke-width="0.9"/>
<line x1="137.30" y1="385.67" x2="140.10" y2="385.67" stroke="#6ea846" stroke-width="0.9"/>
<line x1="137.30" y1="391.26" x2="140.10" y2="391.26" stroke="#6ea846" stroke-width="0.9"/>
<rect x="135.20" y="391.26" width="7" height="41.94" fill="#6ea846"/>
<line x1="138.70" y1="433.20" x2="138.70" y2="435.90" stroke="#1b1b1b" stroke-width="1.2"/>
<line x1="149.40" y1="406.64" x2="149.40" y2="410.37" stroke="#6ea846" stroke-width="0.9"/>
<line x1="148.00" y1="406.64" x2="150.80" y2="406.64" stroke="#6ea846" stroke-width="0.9"/>
<line x1="148.00" y1="410.37" x2="150.80" y2="410.37" stroke="#6ea846" stroke-width="0.9"/>
<rect x="145.90" y="410.37" width="7" height="22.83" fill="#6ea846"/>
<line x1="149.40" y1="433.20" x2="149.40" y2="435.90" stroke="#1b1b1b" stroke-width="1.2"/>
<line x1="167.60" y1="386.13" x2="167.60" y2="395.92" stroke="#2d4a7b" stroke-width="0.9"/>
<line x1="166.20" y1="386.13" x2="169.00" y2="386.13" stroke="#2d4a7b" stroke-width="0.9"/>
<line x1="166.20" y1="395.92" x2="169.00" y2="395.92" stroke="#2d4a7b" stroke-width="0.9"/>
<rect x="164.10" y="395.92" width="7" height="37.28" fill="#2d4a7b"/>
<line x1="167.60" y1="433.20" x2="167.60" y2="435.90" stroke="#1b1b1b" stroke-width="1.2"/>
<line x1="178.30" y1="360.27" x2="178.30" y2="363.77" stroke="#2d4a7b" stroke-width="0.9"/>
<line x1="176.90" y1="360.27" x2="179.70" y2="360.27" stroke="#2d4a7b" stroke-width="0.9"/>
<line x1="176.90" y1="363.77" x2="179.70" y2="363.77" stroke="#2d4a7b" stroke-width="0.9"/>
<rect x="174.80" y="363.77" width="7" height="69.43" fill="#2d4a7b"/>
<line x1="178.30" y1="433.20" x2="178.30" y2="435.90" stroke="#1b1b1b" stroke-width="1.2"/>
<line x1="189.30" y1="381.01" x2="189.30" y2="383.80" stroke="#2d4a7b" stroke-width="0.9"/>
<line x1="187.90" y1="381.01" x2="190.70" y2="381.01" stroke="#2d4a7b" stroke-width="0.9"/>
<line x1="187.90" y1="383.80" x2="190.70" y2="383.80" stroke="#2d4a7b" stroke-width="0.9"/>
<rect x="185.80" y="383.80" width="7" height="49.40" fill="#2d4a7b"/>
<line x1="189.30" y1="433.20" x2="189.30" y2="435.90" stroke="#1b1b1b" stroke-width="1.2"/>
<text transform="translate(51.10,442.00) rotate(-45)" font-size="7.7" text-anchor="end" fill="#222" stroke="#222" stroke-width="0.28">BM</text>
<text transform="translate(62.20,442.00) rotate(-45)" font-size="7.7" text-anchor="end" fill="#222" stroke="#222" stroke-width="0.28">Vehicle</text>
<text transform="translate(72.80,442.00) rotate(-45)" font-size="7.7" text-anchor="end" fill="#222" stroke="#222" stroke-width="0.28">IRX4204</text>
<text transform="translate(90.90,442.00) rotate(-45)" font-size="7.7" text-anchor="end" fill="#222" stroke="#222" stroke-width="0.28">BM</text>
<text transform="translate(101.70,442.00) rotate(-45)" font-size="7.7" text-anchor="end" fill="#222" stroke="#222" stroke-width="0.28">Vehicle</text>
<text transform="translate(112.70,442.00) rotate(-45)" font-size="7.7" text-anchor="end" fill="#222" stroke="#222" stroke-width="0.28">IRX4204</text>
<text transform="translate(130.70,442.00) rotate(-45)" font-size="7.7" text-anchor="end" fill="#222" stroke="#222" stroke-width="0.28">BM</text>
<text transform="translate(141.50,442.00) rotate(-45)" font-size="7.7" text-anchor="end" fill="#222" stroke="#222" stroke-width="0.28">Vehicle</text>
<text transform="translate(152.20,442.00) rotate(-45)" font-size="7.7" text-anchor="end" fill="#222" stroke="#222" stroke-width="0.28">IRX4204</text>
<text transform="translate(170.40,442.00) rotate(-45)" font-size="7.7" text-anchor="end" fill="#222" stroke="#222" stroke-width="0.28">BM</text>
<text transform="translate(181.10,442.00) rotate(-45)" font-size="7.7" text-anchor="end" fill="#222" stroke="#222" stroke-width="0.28">Vehicle</text>
<text transform="translate(192.10,442.00) rotate(-45)" font-size="7.7" text-anchor="end" fill="#222" stroke="#222" stroke-width="0.28">IRX4204</text>
<line x1="60.40" y1="377.30" x2="72.10" y2="377.30" stroke="#111" stroke-width="1.0"/>
<circle cx="66.30" cy="373.10" r="1.1" fill="#161616"/>
<line x1="139.80" y1="383.10" x2="151.50" y2="383.10" stroke="#111" stroke-width="1.0"/>
<circle cx="143.72" cy="379.40" r="1.1" fill="#161616"/>
<circle cx="147.07" cy="379.40" r="1.1" fill="#161616"/>
<line x1="180.40" y1="358.40" x2="192.10" y2="358.40" stroke="#111" stroke-width="1.0"/>
<circle cx="183.15" cy="354.50" r="1.1" fill="#161616"/>
<circle cx="186.50" cy="354.50" r="1.1" fill="#161616"/>
<circle cx="189.85" cy="354.50" r="1.1" fill="#161616"/>
<rect x="201.1" y="338.40" width="10.1" height="5.4" fill="#5c3c1c"/>
<text x="214.60" y="343.50" font-size="8.4" textLength="14.7" lengthAdjust="spacingAndGlyphs" fill="#222" stroke="#222" stroke-width="0.28">liver</text>
<rect x="201.1" y="349.80" width="10.1" height="5.4" fill="#a6042c"/>
<text x="214.60" y="354.90" font-size="8.4" textLength="20" lengthAdjust="spacingAndGlyphs" fill="#222" stroke="#222" stroke-width="0.28">spleen</text>
<rect x="201.1" y="360.80" width="10.1" height="5.4" fill="#6ea846"/>
<text x="214.60" y="365.90" font-size="8.4" textLength="47.7" lengthAdjust="spacingAndGlyphs" fill="#222" stroke="#222" stroke-width="0.28">small intestine</text>
<rect x="201.1" y="372.30" width="10.1" height="5.4" fill="#2d4a7b"/>
<text x="214.60" y="377.40" font-size="8.4" textLength="18" lengthAdjust="spacingAndGlyphs" fill="#222" stroke="#222" stroke-width="0.28">colon</text>
<line x1="315.80" y1="312.50" x2="315.80" y2="433.75" stroke="#1b1b1b" stroke-width="1.2"/>
<line x1="312.80" y1="314.70" x2="315.80" y2="314.70" stroke="#1b1b1b" stroke-width="1.2"/>
<text x="309.60" y="317.70" font-size="9.0" text-anchor="end" textLength="8.5" lengthAdjust="spacingAndGlyphs" fill="#222" stroke="#222" stroke-width="0.28">25</text>
<line x1="312.80" y1="338.40" x2="315.80" y2="338.40" stroke="#1b1b1b" stroke-width="1.2"/>
<text x="309.60" y="341.40" font-size="9.0" text-anchor="end" textLength="8.5" lengthAdjust="spacingAndGlyphs" fill="#222" stroke="#222" stroke-width="0.28">20</text>
<line x1="312.80" y1="362.10" x2="315.80" y2="362.10" stroke="#1b1b1b" stroke-width="1.2"/>
<text x="309.60" y="365.10" font-size="9.0" text-anchor="end" textLength="8.5" lengthAdjust="spacingAndGlyphs" fill="#222" stroke="#222" stroke-width="0.28">15</text>
<line x1="312.80" y1="385.80" x2="315.80" y2="385.80" stroke="#1b1b1b" stroke-width="1.2"/>
<text x="309.60" y="388.80" font-size="9.0" text-anchor="end" textLength="8.5" lengthAdjust="spacingAndGlyphs" fill="#222" stroke="#222" stroke-width="0.28">10</text>
<line x1="312.80" y1="409.50" x2="315.80" y2="409.50" stroke="#1b1b1b" stroke-width="1.2"/>
<text x="309.60" y="412.50" font-size="9.0" text-anchor="end" textLength="4.25" lengthAdjust="spacingAndGlyphs" fill="#222" stroke="#222" stroke-width="0.28">5</text>
<line x1="312.80" y1="433.20" x2="315.80" y2="433.20" stroke="#1b1b1b" stroke-width="1.2"/>
<text x="309.60" y="436.20" font-size="9.0" text-anchor="end" textLength="4.25" lengthAdjust="spacingAndGlyphs" fill="#222" stroke="#222" stroke-width="0.28">0</text>
<line x1="315.30" y1="433.20" x2="394.40" y2="433.20" stroke="#1b1b1b" stroke-width="1.2"/>
<text transform="translate(294.00,374.70) rotate(-90)" font-size="7.9" text-anchor="middle" textLength="89" lengthAdjust="spacingAndGlyphs" fill="#222" stroke="#222" stroke-width="0.28">Plasma FITC-dextran (µg/ml)</text>
<rect x="323.7" y="428" width="15.4" height="5.2" fill="#c4e2ae"/>
<rect x="347.2" y="391.8" width="15.7" height="41.4" fill="#d08a7c"/>
<rect x="371" y="420.3" width="16" height="12.9" fill="#a2a9d4"/>
<line x1="331.40" y1="433.20" x2="331.40" y2="435.90" stroke="#1b1b1b" stroke-width="1.2"/>
<line x1="355.10" y1="433.20" x2="355.10" y2="435.90" stroke="#1b1b1b" stroke-width="1.2"/>
<line x1="378.80" y1="433.20" x2="378.80" y2="435.90" stroke="#1b1b1b" stroke-width="1.2"/>
<line x1="355.10" y1="381.70" x2="355.10" y2="401.20" stroke="#a6042c" stroke-width="1.0"/>
<line x1="351.60" y1="381.70" x2="358.60" y2="381.70" stroke="#a6042c" stroke-width="1.0"/>
<line x1="351.60" y1="401.20" x2="358.60" y2="401.20" stroke="#a6042c" stroke-width="1.0"/>
<line x1="327.00" y1="427.80" x2="336.00" y2="427.80" stroke="#59a52e" stroke-width="1.0"/>
<circle cx="331.40" cy="417.80" r="1.6" fill="#4c9c22" stroke="#4c9c22" stroke-width="0"/>
<circle cx="326.40" cy="426.10" r="1.6" fill="#4c9c22" stroke="#4c9c22" stroke-width="0"/>
<circle cx="331.40" cy="425.50" r="1.6" fill="#4c9c22" stroke="#4c9c22" stroke-width="0"/>
<circle cx="328.00" cy="430.40" r="1.6" fill="#4c9c22" stroke="#4c9c22" stroke-width="0"/>
<circle cx="330.50" cy="430.60" r="1.6" fill="#4c9c22" stroke="#4c9c22" stroke-width="0"/>
<circle cx="333.00" cy="430.60" r="1.6" fill="#4c9c22" stroke="#4c9c22" stroke-width="0"/>
<circle cx="335.50" cy="430.50" r="1.6" fill="#4c9c22" stroke="#4c9c22" stroke-width="0"/>
<circle cx="337.50" cy="430.40" r="1.6" fill="#4c9c22" stroke="#4c9c22" stroke-width="0"/>
<circle cx="355.00" cy="332.30" r="1.7" fill="#b3072f" stroke="#b3072f" stroke-width="0"/>
<circle cx="355.00" cy="381.80" r="1.7" fill="#b3072f" stroke="#b3072f" stroke-width="0"/>
<circle cx="355.00" cy="387.80" r="1.7" fill="#b3072f" stroke="#b3072f" stroke-width="0"/>
<circle cx="357.90" cy="394.10" r="1.7" fill="#b3072f" stroke="#b3072f" stroke-width="0"/>
<circle cx="352.70" cy="399.20" r="1.7" fill="#b3072f" stroke="#b3072f" stroke-width="0"/>
<circle cx="355.00" cy="406.90" r="1.7" fill="#b3072f" stroke="#b3072f" stroke-width="0"/>
<circle cx="352.70" cy="416.20" r="1.7" fill="#b3072f" stroke="#b3072f" stroke-width="0"/>
<circle cx="357.90" cy="414.40" r="1.7" fill="#b3072f" stroke="#b3072f" stroke-width="0"/>
<circle cx="378.80" cy="409.00" r="1.7" fill="#1e4a90" stroke="#1e4a90" stroke-width="0"/>
<circle cx="375.50" cy="418.80" r="1.7" fill="#1e4a90" stroke="#1e4a90" stroke-width="0"/>
<circle cx="378.80" cy="418.20" r="1.7" fill="#1e4a90" stroke="#1e4a90" stroke-width="0"/>
<circle cx="382.00" cy="418.80" r="1.7" fill="#1e4a90" stroke="#1e4a90" stroke-width="0"/>
<circle cx="374.80" cy="420.60" r="1.7" fill="#1e4a90" stroke="#1e4a90" stroke-width="0"/>
<circle cx="382.60" cy="420.60" r="1.7" fill="#1e4a90" stroke="#1e4a90" stroke-width="0"/>
<circle cx="377.00" cy="422.50" r="1.7" fill="#1e4a90" stroke="#1e4a90" stroke-width="0"/>
<circle cx="380.50" cy="422.50" r="1.7" fill="#1e4a90" stroke="#1e4a90" stroke-width="0"/>
<circle cx="378.80" cy="428.80" r="1.7" fill="#1e4a90" stroke="#1e4a90" stroke-width="0"/>
<line x1="355.50" y1="375.90" x2="375.30" y2="375.90" stroke="#111" stroke-width="1.0"/>
<circle cx="365.50" cy="372.40" r="1.1" fill="#161616"/>
<text transform="translate(334.20,442.00) rotate(-45)" font-size="7.7" text-anchor="end" fill="#222" stroke="#222" stroke-width="0.28">BM</text>
<text transform="translate(357.90,442.00) rotate(-45)" font-size="7.7" text-anchor="end" fill="#222" stroke="#222" stroke-width="0.28">Vehicle</text>
<text transform="translate(381.60,442.00) rotate(-45)" font-size="7.7" text-anchor="end" fill="#222" stroke="#222" stroke-width="0.28">IRX4204</text>
</svg></body></html>
